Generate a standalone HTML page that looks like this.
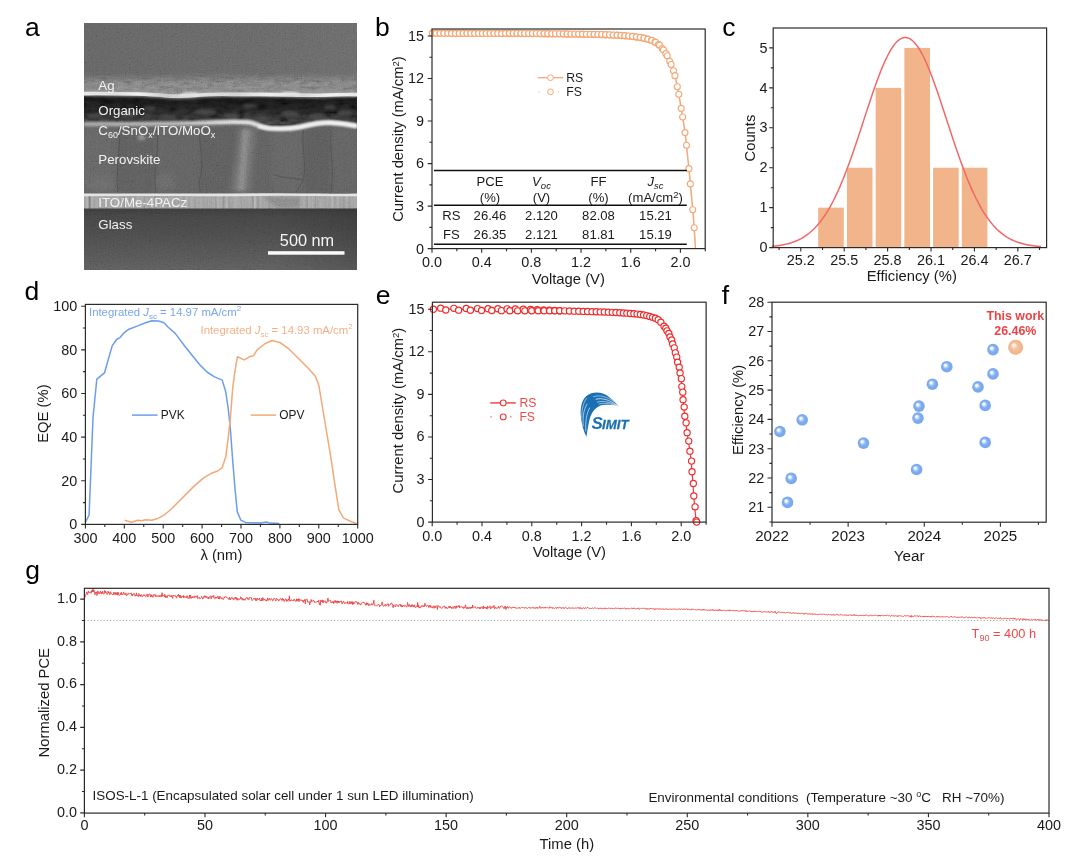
<!DOCTYPE html>
<html><head><meta charset="utf-8"><title>Figure</title>
<style>html,body{margin:0;padding:0;background:#fff;} svg{display:block;will-change:transform;} text{font-family:"Liberation Sans",sans-serif;}</style>
</head><body>
<svg width="1080" height="857" viewBox="0 0 1080 857" font-family="Liberation Sans, sans-serif">
<rect width="1080" height="857" fill="#fff"/>
<defs>
<filter id="grain" x="0" y="0" width="100%" height="100%">
  <feTurbulence type="fractalNoise" baseFrequency="0.75" numOctaves="2" seed="3"/>
  <feColorMatrix type="matrix" values="0.33 0.33 0.33 0 0  0.33 0.33 0.33 0 0  0.33 0.33 0.33 0 0  0 0 0 0 1"/>
  <feGaussianBlur stdDeviation="0.7"/>
  <feComponentTransfer><feFuncR type="linear" slope="2.2" intercept="-0.6"/><feFuncG type="linear" slope="2.2" intercept="-0.6"/><feFuncB type="linear" slope="2.2" intercept="-0.6"/></feComponentTransfer>
</filter>
<filter id="mottle" x="0" y="0" width="100%" height="100%">
  <feTurbulence type="fractalNoise" baseFrequency="0.12 0.3" numOctaves="3" seed="11"/>
  <feColorMatrix type="matrix" values="0.33 0.33 0.33 0 0  0.33 0.33 0.33 0 0  0.33 0.33 0.33 0 0  0 0 0 0 1"/>
  <feComponentTransfer><feFuncR type="linear" slope="2.0" intercept="-0.45"/><feFuncG type="linear" slope="2.0" intercept="-0.45"/><feFuncB type="linear" slope="2.0" intercept="-0.45"/></feComponentTransfer>
</filter>
<filter id="mottle2" x="0" y="0" width="100%" height="100%">
  <feTurbulence type="fractalNoise" baseFrequency="0.09 0.2" numOctaves="3" seed="5"/>
  <feColorMatrix type="matrix" values="0.33 0.33 0.33 0 0  0.33 0.33 0.33 0 0  0.33 0.33 0.33 0 0  0 0 0 0 1"/>
  <feComponentTransfer><feFuncR type="linear" slope="2.4" intercept="-0.65"/><feFuncG type="linear" slope="2.4" intercept="-0.65"/><feFuncB type="linear" slope="2.4" intercept="-0.65"/></feComponentTransfer>
</filter>
<filter id="vstreak" x="0" y="0" width="100%" height="100%">
  <feTurbulence type="fractalNoise" baseFrequency="0.35 0.01" numOctaves="2" seed="8"/>
  <feColorMatrix type="matrix" values="0.33 0.33 0.33 0 0  0.33 0.33 0.33 0 0  0.33 0.33 0.33 0 0  0 0 0 0 1"/>
  <feComponentTransfer><feFuncR type="linear" slope="2.2" intercept="-0.6"/><feFuncG type="linear" slope="2.2" intercept="-0.6"/><feFuncB type="linear" slope="2.2" intercept="-0.6"/></feComponentTransfer>
</filter>
<filter id="blur05" filterUnits="userSpaceOnUse" x="80" y="20" width="280" height="255"><feGaussianBlur stdDeviation="0.45"/></filter>
<filter id="blur1" filterUnits="userSpaceOnUse" x="80" y="20" width="280" height="255"><feGaussianBlur stdDeviation="0.8"/></filter>
<filter id="blur2" filterUnits="userSpaceOnUse" x="80" y="20" width="280" height="255"><feGaussianBlur stdDeviation="1.6"/></filter>
<filter id="blur4" filterUnits="userSpaceOnUse" x="80" y="20" width="280" height="255"><feGaussianBlur stdDeviation="3"/></filter>
<radialGradient id="sph" cx="0.5" cy="0.5" r="0.5" fx="0.35" fy="0.35">
  <stop offset="0" stop-color="#ffffff"/>
  <stop offset="0.2" stop-color="#eef4fd"/>
  <stop offset="0.42" stop-color="#9fc1f4"/>
  <stop offset="0.6" stop-color="#7eacf0"/>
  <stop offset="1" stop-color="#77a7ee"/>
</radialGradient>
<radialGradient id="sph2" cx="0.5" cy="0.5" r="0.5" fx="0.35" fy="0.33">
  <stop offset="0" stop-color="#ffffff"/>
  <stop offset="0.18" stop-color="#fcebdd"/>
  <stop offset="0.45" stop-color="#f4c29f"/>
  <stop offset="1" stop-color="#efb183"/>
</radialGradient>
<linearGradient id="glass" x1="0" y1="0" x2="0" y2="1">
  <stop offset="0" stop-color="#3a3a3a"/>
  <stop offset="0.12" stop-color="#434343"/>
  <stop offset="0.5" stop-color="#4c4c4c"/>
  <stop offset="1" stop-color="#5c5c5c"/>
</linearGradient>
<linearGradient id="glassh" x1="0" y1="0" x2="1" y2="0">
  <stop offset="0" stop-color="#000" stop-opacity="0"/>
  <stop offset="0.7" stop-color="#000" stop-opacity="0"/>
  <stop offset="1" stop-color="#000" stop-opacity="0.12"/>
</linearGradient>
<linearGradient id="aggh" x1="0" y1="0" x2="1" y2="0">
  <stop offset="0" stop-color="#626262"/>
  <stop offset="1" stop-color="#686868"/>
</linearGradient>
<linearGradient id="agfade" x1="0" y1="0" x2="0" y2="1"><stop offset="0" stop-color="#000"/><stop offset="0.45" stop-color="#fff"/><stop offset="1" stop-color="#fff"/></linearGradient>
<mask id="agmask" maskUnits="userSpaceOnUse" x="84" y="72" width="273" height="23"><rect x="84" y="72" width="273" height="23" fill="url(#agfade)"/></mask>
<linearGradient id="ifgrad" gradientUnits="userSpaceOnUse" x1="84" y1="0" x2="357" y2="0"><stop offset="0" stop-color="#a0a0a0"/><stop offset="0.35" stop-color="#b0b0b0"/><stop offset="0.55" stop-color="#dcdcdc"/><stop offset="1" stop-color="#e6e6e6"/></linearGradient>
<linearGradient id="orgg" x1="0" y1="0" x2="0" y2="1"><stop offset="0" stop-color="#0c0c0c"/><stop offset="0.45" stop-color="#181818"/><stop offset="1" stop-color="#303030"/></linearGradient>
<linearGradient id="aglg" gradientUnits="userSpaceOnUse" x1="84" y1="0" x2="357" y2="0"><stop offset="0" stop-color="#e8e8e8"/><stop offset="0.12" stop-color="#dcdcdc"/><stop offset="0.2" stop-color="#f0f0f0"/><stop offset="0.3" stop-color="#c8c8c8"/><stop offset="0.42" stop-color="#e0e0e0"/><stop offset="0.55" stop-color="#d0d0d0"/><stop offset="0.68" stop-color="#ececec"/><stop offset="0.8" stop-color="#d4d4d4"/><stop offset="0.9" stop-color="#f0f0f0"/><stop offset="1" stop-color="#e4e4e4"/></linearGradient>
<clipPath id="semclip"><rect x="84" y="23" width="273" height="247"/></clipPath>
</defs>
<text x="25" y="35.8" font-size="26.5" text-anchor="start" fill="#000" >a</text>
<text x="374.9" y="35.6" font-size="26.5" text-anchor="start" fill="#000" >b</text>
<text x="722.3" y="35.9" font-size="26.5" text-anchor="start" fill="#000" >c</text>
<text x="24.6" y="299.8" font-size="26.5" text-anchor="start" fill="#000" >d</text>
<text x="375.8" y="303.9" font-size="26.5" text-anchor="start" fill="#000" >e</text>
<text x="721.8" y="303.7" font-size="26.5" text-anchor="start" fill="#000" >f</text>
<text x="25.2" y="579.3" font-size="26.5" text-anchor="start" fill="#000" >g</text>
<g clip-path="url(#semclip)">
<rect x="84" y="23" width="273" height="247" fill="#656565"/>
<rect x="84" y="23" width="273" height="60" fill="url(#aggh)"/>
<path d="M84 80 C 150 82, 250 78, 357 81 L 357 95 L 84 95 Z" fill="#717171" filter="url(#blur4)"/>
<rect x="84" y="72" width="273" height="23" filter="url(#mottle)" style="mix-blend-mode:overlay" opacity="0.3" mask="url(#agmask)"/>
<rect x="84" y="118" width="273" height="77" fill="#5e5e5e"/>
<rect x="84" y="128" width="34" height="64" fill="#636363" filter="url(#blur4)"/>
<rect x="118" y="128" width="38" height="64" fill="#5c5c5c" filter="url(#blur4)"/>
<rect x="156" y="128" width="44" height="64" fill="#616161" filter="url(#blur4)"/>
<rect x="200" y="128" width="40" height="64" fill="#5b5b5b" filter="url(#blur4)"/>
<rect x="272" y="128" width="32" height="64" fill="#626262" filter="url(#blur4)"/>
<rect x="304" y="128" width="28" height="64" fill="#5a5a5a" filter="url(#blur4)"/>
<rect x="332" y="128" width="25" height="64" fill="#616161" filter="url(#blur4)"/>
<path d="M240 128 C 238 150, 235 170, 232 192 L 249 192 C 250 170, 253 150, 255 128 Z" fill="#747474" filter="url(#blur4)"/>
<path d="M243 130 C 242 150, 240 170, 238 190 L 244 190 C 245 170, 247 150, 249 130 Z" fill="#858585" filter="url(#blur2)"/>
<ellipse cx="141.5" cy="137.5" rx="4" ry="2.5" fill="#909090" filter="url(#blur2)"/>
<ellipse cx="100" cy="184" rx="14" ry="7" fill="#696969" filter="url(#blur4)"/>
<ellipse cx="165" cy="182" rx="10" ry="8" fill="#676767" filter="url(#blur4)"/>
<path d="M119 128 C 121 150, 115 172, 118 192" stroke="#4a4a4a" stroke-width="1" fill="none" opacity="0.7" filter="url(#blur05)"/>
<path d="M157 130 C 160 150, 152 172, 156 192" stroke="#4a4a4a" stroke-width="1" fill="none" opacity="0.7" filter="url(#blur05)"/>
<path d="M200 128 C 198 145, 205 160, 200 178 C 198 185, 201 190, 200 192" stroke="#4a4a4a" stroke-width="1" fill="none" opacity="0.7" filter="url(#blur05)"/>
<path d="M304 128 C 300 145, 308 165, 303 180 C 300 186, 298 190, 296 192" stroke="#4a4a4a" stroke-width="1" fill="none" opacity="0.7" filter="url(#blur05)"/>
<path d="M331 130 C 329 150, 335 170, 331 192" stroke="#4a4a4a" stroke-width="1" fill="none" opacity="0.7" filter="url(#blur05)"/>
<path d="M274 175 C 284 178, 294 178, 303 180" stroke="#4a4a4a" stroke-width="1" fill="none" opacity="0.7" filter="url(#blur05)"/>
<path d="M84 95 L 357 95 L 357 126 C 345 123.5, 335 121.5, 325 122.5 C 312 124, 305 127, 300 127 C 290 129, 275 129, 265 127.5 C 255 125, 248 121.5, 240 121.5 C 220 122, 200 123, 84 124 Z" fill="url(#orgg)"/>
<rect x="84" y="96" width="273" height="28" filter="url(#mottle2)" style="mix-blend-mode:overlay" opacity="0.9"/>
<ellipse cx="95" cy="116" rx="8" ry="3" fill="#4a4a4a" opacity="0.8" filter="url(#blur2)"/>
<ellipse cx="130" cy="114" rx="10" ry="3" fill="#4a4a4a" opacity="0.8" filter="url(#blur2)"/>
<ellipse cx="168" cy="117" rx="9" ry="2.5" fill="#4a4a4a" opacity="0.8" filter="url(#blur2)"/>
<ellipse cx="205" cy="112" rx="12" ry="3" fill="#4a4a4a" opacity="0.8" filter="url(#blur2)"/>
<ellipse cx="232" cy="116" rx="8" ry="3" fill="#4a4a4a" opacity="0.8" filter="url(#blur2)"/>
<ellipse cx="262" cy="118" rx="10" ry="2.5" fill="#4a4a4a" opacity="0.8" filter="url(#blur2)"/>
<ellipse cx="290" cy="114" rx="9" ry="3" fill="#4a4a4a" opacity="0.8" filter="url(#blur2)"/>
<ellipse cx="318" cy="117" rx="10" ry="3" fill="#4a4a4a" opacity="0.8" filter="url(#blur2)"/>
<ellipse cx="345" cy="113" rx="8" ry="3" fill="#4a4a4a" opacity="0.8" filter="url(#blur2)"/>
<ellipse cx="150" cy="108" rx="6" ry="2" fill="#4a4a4a" opacity="0.8" filter="url(#blur2)"/>
<ellipse cx="250" cy="106" rx="7" ry="2" fill="#4a4a4a" opacity="0.8" filter="url(#blur2)"/>
<ellipse cx="330" cy="107" rx="6" ry="2" fill="#4a4a4a" opacity="0.8" filter="url(#blur2)"/>
<path d="M84 93.6 C 120 93.4, 150 94.2, 165 95.6 C 175 96.6, 185 96.4, 200 95 C 215 93.6, 230 94.6, 250 94.4 C 280 94, 300 95.6, 320 95.2 C 335 94.6, 345 94.2, 357 94.6" stroke="#999" stroke-width="5" fill="none" filter="url(#blur2)"/>
<path d="M84 93.6 C 120 93.4, 150 94.2, 165 95.6 C 175 96.6, 185 96.4, 200 95 C 215 93.6, 230 94.6, 250 94.4 C 280 94, 300 95.6, 320 95.2 C 335 94.6, 345 94.2, 357 94.6" stroke="url(#aglg)" stroke-width="3.6" fill="none" filter="url(#blur05)"/>
<path d="M180 95.5 C 186 93, 192 92.5, 198 94.5 M282 94 C 288 92.2, 294 92.4, 300 94.6" stroke="#e8e8e8" stroke-width="2" fill="none" filter="url(#blur1)"/>
<path d="M84 124 C 140 124, 190 123.5, 210 122.5 C 225 121.8, 240 121.2, 250 122.5 C 257 124, 262 127.5, 270 128.4 C 282 129.3, 293 128.5, 302 126.5 C 312 124, 320 122.2, 330 122.5 C 342 123, 350 124.5, 357 126" stroke="url(#ifgrad)" stroke-width="4.4" fill="none" filter="url(#blur1)"/>
<path d="M258 126.5 C 266 128.5, 285 129.5, 300 127 C 310 125, 318 122.5, 330 122.5 C 342 123, 350 124.5, 357 126" stroke="#f0f0f0" stroke-width="3.2" fill="none" filter="url(#blur1)"/>
<rect x="84" y="194" width="273" height="15" fill="#929292"/>
<rect x="84" y="195" width="273" height="13.5" filter="url(#vstreak)" style="mix-blend-mode:overlay" opacity="0.3"/>
<path d="M261 197 C 268 200, 272 204, 276 208 L 300 208 L 300 197 Z" fill="#888" filter="url(#blur2)"/>
<path d="M84 194.9 C 150 194.4, 200 195.3, 260 194.6 C 300 194.2, 330 195.2, 357 194.9" stroke="#e2e2e2" stroke-width="2.6" fill="none" filter="url(#blur05)"/>
<rect x="84" y="208.5" width="273" height="62" fill="url(#glass)"/>
<rect x="84" y="208.5" width="273" height="62" fill="url(#glassh)"/>
<rect x="84" y="23" width="273" height="247" filter="url(#grain)" style="mix-blend-mode:overlay" opacity="0.16"/>
</g>
<text x="98.3" y="89.7" font-size="13.3" text-anchor="start" fill="#f2f2f2" >Ag</text>
<text x="98.3" y="114.8" font-size="13.3" text-anchor="start" fill="#f2f2f2" >Organic</text>
<text x="98.3" y="134.5" font-size="13.3" fill="#f2f2f2">C<tspan font-size="9" dy="3">60</tspan><tspan dy="-3">/SnO</tspan><tspan font-size="9" dy="3">x</tspan><tspan dy="-3">/ITO/MoO</tspan><tspan font-size="9" dy="3">x</tspan></text>
<text x="98.3" y="164.4" font-size="13.3" text-anchor="start" fill="#f2f2f2" >Perovskite</text>
<text x="98.3" y="207.2" font-size="13.3" text-anchor="start" fill="#f2f2f2" >ITO/Me-4PACz</text>
<text x="98.3" y="228.6" font-size="13.3" text-anchor="start" fill="#f2f2f2" >Glass</text>
<text x="307" y="245.5" font-size="16.3" text-anchor="middle" fill="#f4f4f4" >500 nm</text>
<rect x="268" y="251.2" width="76.5" height="3.5" fill="#fafafa"/>
<path d="M432 33.07 L432.66 33.07 L433.32 33.07 L433.98 33.07 L434.64 33.07 L435.3 33.07 L435.96 33.08 L436.62 33.08 L437.28 33.08 L437.94 33.08 L438.6 33.08 L439.26 33.08 L439.92 33.08 L440.58 33.08 L441.24 33.08 L441.9 33.08 L442.56 33.08 L443.22 33.08 L443.88 33.08 L444.54 33.08 L445.2 33.08 L445.86 33.09 L446.52 33.09 L447.19 33.09 L447.85 33.09 L448.51 33.09 L449.17 33.09 L449.83 33.09 L450.49 33.09 L451.15 33.1 L451.81 33.1 L452.47 33.1 L453.13 33.1 L453.79 33.1 L454.45 33.1 L455.11 33.1 L455.77 33.11 L456.43 33.11 L457.09 33.11 L457.75 33.11 L458.41 33.11 L459.07 33.12 L459.73 33.12 L460.39 33.12 L461.05 33.12 L461.71 33.12 L462.37 33.13 L463.03 33.13 L463.69 33.13 L464.35 33.13 L465.01 33.13 L465.67 33.14 L466.33 33.14 L466.99 33.14 L467.65 33.14 L468.31 33.15 L468.97 33.15 L469.63 33.15 L470.29 33.15 L470.95 33.16 L471.61 33.16 L472.27 33.16 L472.93 33.16 L473.59 33.17 L474.25 33.17 L474.91 33.17 L475.57 33.17 L476.23 33.18 L476.9 33.18 L477.56 33.18 L478.22 33.19 L478.88 33.19 L479.54 33.19 L480.2 33.2 L480.86 33.2 L481.52 33.2 L482.18 33.2 L482.84 33.21 L483.5 33.21 L484.16 33.21 L484.82 33.22 L485.48 33.22 L486.14 33.22 L486.8 33.23 L487.46 33.23 L488.12 33.23 L488.78 33.24 L489.44 33.24 L490.1 33.24 L490.76 33.25 L491.42 33.25 L492.08 33.26 L492.74 33.26 L493.4 33.26 L494.06 33.27 L494.72 33.27 L495.38 33.27 L496.04 33.28 L496.7 33.28 L497.36 33.28 L498.02 33.29 L498.68 33.29 L499.34 33.3 L500 33.3 L500.66 33.3 L501.32 33.31 L501.98 33.31 L502.64 33.31 L503.3 33.32 L503.96 33.32 L504.62 33.33 L505.28 33.33 L505.94 33.33 L506.6 33.34 L507.27 33.34 L507.93 33.35 L508.59 33.35 L509.25 33.35 L509.91 33.36 L510.57 33.36 L511.23 33.37 L511.89 33.37 L512.55 33.38 L513.21 33.38 L513.87 33.38 L514.53 33.39 L515.19 33.39 L515.85 33.4 L516.51 33.4 L517.17 33.41 L517.83 33.41 L518.49 33.41 L519.15 33.42 L519.81 33.42 L520.47 33.43 L521.13 33.43 L521.79 33.44 L522.45 33.44 L523.11 33.44 L523.77 33.45 L524.43 33.45 L525.09 33.46 L525.75 33.46 L526.41 33.47 L527.07 33.47 L527.73 33.47 L528.39 33.48 L529.05 33.48 L529.71 33.49 L530.37 33.49 L531.03 33.5 L531.69 33.5 L532.35 33.51 L533.01 33.51 L533.67 33.52 L534.33 33.52 L534.99 33.53 L535.65 33.53 L536.31 33.54 L536.98 33.54 L537.64 33.55 L538.3 33.55 L538.96 33.56 L539.62 33.56 L540.28 33.57 L540.94 33.57 L541.6 33.58 L542.26 33.59 L542.92 33.59 L543.58 33.6 L544.24 33.6 L544.9 33.61 L545.56 33.62 L546.22 33.62 L546.88 33.63 L547.54 33.64 L548.2 33.64 L548.86 33.65 L549.52 33.66 L550.18 33.67 L550.84 33.67 L551.5 33.68 L552.16 33.69 L552.82 33.7 L553.48 33.7 L554.14 33.71 L554.8 33.72 L555.46 33.73 L556.12 33.73 L556.78 33.74 L557.44 33.75 L558.1 33.76 L558.76 33.77 L559.42 33.78 L560.08 33.78 L560.74 33.79 L561.4 33.8 L562.06 33.81 L562.72 33.82 L563.38 33.83 L564.04 33.84 L564.7 33.85 L565.36 33.86 L566.02 33.87 L566.69 33.88 L567.35 33.89 L568.01 33.9 L568.67 33.91 L569.33 33.92 L569.99 33.93 L570.65 33.94 L571.31 33.95 L571.97 33.96 L572.63 33.97 L573.29 33.98 L573.95 33.99 L574.61 34 L575.27 34.01 L575.93 34.02 L576.59 34.03 L577.25 34.04 L577.91 34.05 L578.57 34.07 L579.23 34.08 L579.89 34.09 L580.55 34.1 L581.21 34.11 L581.87 34.12 L582.53 34.14 L583.19 34.15 L583.85 34.16 L584.51 34.17 L585.17 34.19 L585.83 34.2 L586.49 34.21 L587.15 34.22 L587.81 34.24 L588.47 34.25 L589.13 34.26 L589.79 34.27 L590.45 34.29 L591.11 34.3 L591.77 34.31 L592.43 34.33 L593.09 34.34 L593.75 34.36 L594.41 34.37 L595.07 34.38 L595.73 34.4 L596.4 34.41 L597.06 34.43 L597.72 34.45 L598.38 34.46 L599.04 34.48 L599.7 34.5 L600.36 34.51 L601.02 34.53 L601.68 34.55 L602.34 34.57 L603 34.59 L603.66 34.61 L604.32 34.63 L604.98 34.65 L605.64 34.67 L606.3 34.69 L606.96 34.72 L607.62 34.74 L608.28 34.76 L608.94 34.79 L609.6 34.81 L610.26 34.84 L610.92 34.86 L611.58 34.89 L612.24 34.92 L612.9 34.95 L613.56 34.98 L614.22 35 L614.88 35.03 L615.54 35.06 L616.2 35.1 L616.86 35.13 L617.52 35.16 L618.18 35.19 L618.84 35.23 L619.5 35.26 L620.16 35.3 L620.82 35.34 L621.48 35.39 L622.14 35.43 L622.8 35.48 L623.46 35.52 L624.12 35.57 L624.78 35.63 L625.44 35.68 L626.1 35.74 L626.77 35.79 L627.43 35.85 L628.09 35.91 L628.75 35.98 L629.41 36.04 L630.07 36.11 L630.73 36.18 L631.39 36.25 L632.05 36.32 L632.71 36.4 L633.37 36.48 L634.03 36.55 L634.69 36.64 L635.35 36.72 L636.01 36.8 L636.67 36.89 L637.33 36.98 L637.99 37.07 L638.65 37.16 L639.31 37.26 L639.97 37.37 L640.63 37.48 L641.29 37.6 L641.95 37.72 L642.61 37.85 L643.27 37.98 L643.93 38.12 L644.59 38.27 L645.25 38.42 L645.91 38.58 L646.57 38.75 L647.23 38.93 L647.89 39.11 L648.55 39.3 L649.21 39.5 L649.87 39.7 L650.53 39.92 L651.19 40.14 L651.85 40.39 L652.51 40.66 L653.17 40.95 L653.83 41.27 L654.49 41.61 L655.15 41.98 L655.81 42.38 L656.48 42.8 L657.14 43.24 L657.8 43.71 L658.46 44.2 L659.12 44.76 L659.78 45.43 L660.44 46.19 L661.1 47 L661.76 47.84 L662.42 48.68 L663.08 49.51 L663.74 50.35 L664.4 51.23 L665.06 52.15 L665.72 53.14 L666.38 54.21 L667.04 55.4 L667.7 56.72 L668.36 58.14 L669.02 59.62 L669.68 61.15 L670.34 62.7 L671 64.23 L671.66 65.78 L672.32 67.41 L672.98 69.16 L673.64 71.09 L674.3 73.26 L674.96 75.78 L675.62 78.57 L676.28 81.58 L676.94 84.74 L677.6 87.97 L678.26 91.39 L678.92 95.03 L679.58 98.82 L680.24 102.72 L680.9 106.69 L681.56 110.68 L682.22 114.61 L682.88 118.52 L683.54 122.53 L684.2 126.79 L684.86 131.43 L685.52 136.63 L686.19 142.46 L686.85 148.72 L687.51 155.22 L688.17 161.78 L688.83 168.32 L689.49 175.04 L690.15 181.91 L690.81 188.9 L691.47 195.96 L692.13 203.18 L692.79 210.69 L693.45 218.32 L694.11 226.63 L694.77 236.66 L695.43 248.6" stroke="#f3a878" stroke-width="1.5" fill="none"/>
<g fill="#fff" stroke="#f3a878" stroke-width="1.1"><circle cx="432.37" cy="33.07" r="3.0"/><circle cx="432.37" cy="33.36" r="3.0"/><circle cx="436.22" cy="33.08" r="3.0"/><circle cx="436.22" cy="33.36" r="3.0"/><circle cx="440.07" cy="33.08" r="3.0"/><circle cx="440.07" cy="33.36" r="3.0"/><circle cx="443.92" cy="33.08" r="3.0"/><circle cx="443.92" cy="33.37" r="3.0"/><circle cx="447.77" cy="33.09" r="3.0"/><circle cx="447.77" cy="33.37" r="3.0"/><circle cx="451.62" cy="33.1" r="3.0"/><circle cx="451.62" cy="33.38" r="3.0"/><circle cx="455.47" cy="33.11" r="3.0"/><circle cx="455.47" cy="33.39" r="3.0"/><circle cx="459.32" cy="33.12" r="3.0"/><circle cx="459.32" cy="33.4" r="3.0"/><circle cx="463.17" cy="33.13" r="3.0"/><circle cx="463.17" cy="33.41" r="3.0"/><circle cx="467.02" cy="33.14" r="3.0"/><circle cx="467.02" cy="33.42" r="3.0"/><circle cx="470.87" cy="33.16" r="3.0"/><circle cx="470.87" cy="33.44" r="3.0"/><circle cx="474.72" cy="33.17" r="3.0"/><circle cx="474.72" cy="33.45" r="3.0"/><circle cx="478.58" cy="33.19" r="3.0"/><circle cx="478.58" cy="33.47" r="3.0"/><circle cx="482.43" cy="33.21" r="3.0"/><circle cx="482.43" cy="33.49" r="3.0"/><circle cx="486.28" cy="33.22" r="3.0"/><circle cx="486.28" cy="33.51" r="3.0"/><circle cx="490.13" cy="33.24" r="3.0"/><circle cx="490.13" cy="33.53" r="3.0"/><circle cx="493.98" cy="33.27" r="3.0"/><circle cx="493.98" cy="33.55" r="3.0"/><circle cx="497.83" cy="33.29" r="3.0"/><circle cx="497.83" cy="33.57" r="3.0"/><circle cx="501.68" cy="33.31" r="3.0"/><circle cx="501.68" cy="33.59" r="3.0"/><circle cx="505.53" cy="33.62" r="3.0"/><circle cx="505.53" cy="33.33" r="3.0"/><circle cx="509.38" cy="33.64" r="3.0"/><circle cx="509.38" cy="33.36" r="3.0"/><circle cx="513.23" cy="33.66" r="3.0"/><circle cx="513.23" cy="33.38" r="3.0"/><circle cx="517.08" cy="33.69" r="3.0"/><circle cx="517.08" cy="33.4" r="3.0"/><circle cx="520.93" cy="33.71" r="3.0"/><circle cx="520.93" cy="33.43" r="3.0"/><circle cx="524.78" cy="33.74" r="3.0"/><circle cx="524.78" cy="33.46" r="3.0"/><circle cx="528.63" cy="33.76" r="3.0"/><circle cx="528.63" cy="33.48" r="3.0"/><circle cx="532.48" cy="33.79" r="3.0"/><circle cx="532.48" cy="33.51" r="3.0"/><circle cx="536.33" cy="33.82" r="3.0"/><circle cx="536.33" cy="33.54" r="3.0"/><circle cx="540.18" cy="33.85" r="3.0"/><circle cx="540.18" cy="33.57" r="3.0"/><circle cx="544.03" cy="33.89" r="3.0"/><circle cx="544.03" cy="33.6" r="3.0"/><circle cx="547.88" cy="33.92" r="3.0"/><circle cx="547.88" cy="33.64" r="3.0"/><circle cx="551.73" cy="33.97" r="3.0"/><circle cx="551.73" cy="33.68" r="3.0"/><circle cx="555.58" cy="34.01" r="3.0"/><circle cx="555.58" cy="33.73" r="3.0"/><circle cx="559.43" cy="34.06" r="3.0"/><circle cx="559.43" cy="33.78" r="3.0"/><circle cx="563.28" cy="34.11" r="3.0"/><circle cx="563.28" cy="33.83" r="3.0"/><circle cx="567.13" cy="34.16" r="3.0"/><circle cx="567.13" cy="33.88" r="3.0"/><circle cx="570.98" cy="34.22" r="3.0"/><circle cx="570.98" cy="33.94" r="3.0"/><circle cx="574.83" cy="34.28" r="3.0"/><circle cx="574.83" cy="34" r="3.0"/><circle cx="578.68" cy="34.35" r="3.0"/><circle cx="578.68" cy="34.07" r="3.0"/><circle cx="582.53" cy="34.42" r="3.0"/><circle cx="582.53" cy="34.14" r="3.0"/><circle cx="586.38" cy="34.49" r="3.0"/><circle cx="586.38" cy="34.21" r="3.0"/><circle cx="590.23" cy="34.57" r="3.0"/><circle cx="590.23" cy="34.28" r="3.0"/><circle cx="594.08" cy="34.64" r="3.0"/><circle cx="594.08" cy="34.36" r="3.0"/><circle cx="597.93" cy="34.73" r="3.0"/><circle cx="597.93" cy="34.45" r="3.0"/><circle cx="601.78" cy="34.84" r="3.0"/><circle cx="601.78" cy="34.55" r="3.0"/><circle cx="605.63" cy="34.95" r="3.0"/><circle cx="605.63" cy="34.67" r="3.0"/><circle cx="609.48" cy="35.09" r="3.0"/><circle cx="609.48" cy="34.81" r="3.0"/><circle cx="613.33" cy="35.25" r="3.0"/><circle cx="613.33" cy="34.97" r="3.0"/><circle cx="617.18" cy="35.42" r="3.0"/><circle cx="617.18" cy="35.14" r="3.0"/><circle cx="621.03" cy="35.64" r="3.0"/><circle cx="621.03" cy="35.36" r="3.0"/><circle cx="624.88" cy="35.91" r="3.0"/><circle cx="624.88" cy="35.63" r="3.0"/><circle cx="628.73" cy="36.26" r="3.0"/><circle cx="628.73" cy="35.98" r="3.0"/><circle cx="632.57" cy="36.66" r="3.0"/><circle cx="632.58" cy="36.38" r="3.0"/><circle cx="636.4" cy="37.13" r="3.0"/><circle cx="636.43" cy="36.86" r="3.0"/><circle cx="640.22" cy="37.69" r="3.0"/><circle cx="640.28" cy="37.42" r="3.0"/><circle cx="644" cy="38.41" r="3.0"/><circle cx="644.13" cy="38.17" r="3.0"/><circle cx="647.72" cy="39.34" r="3.0"/><circle cx="647.98" cy="39.14" r="3.0"/><circle cx="651.36" cy="40.47" r="3.0"/><circle cx="651.83" cy="40.38" r="3.0"/><circle cx="654.93" cy="42.13" r="3.0"/><circle cx="655.68" cy="42.3" r="3.0"/><circle cx="658.51" cy="44.51" r="3.0"/><circle cx="659.53" cy="45.17" r="3.0"/><circle cx="662.15" cy="48.6" r="3.0"/><circle cx="663.38" cy="49.9" r="3.0"/><circle cx="665.87" cy="53.64" r="3.0"/><circle cx="667.23" cy="55.78" r="3.0"/><circle cx="669.66" cy="61.35" r="3.0"/><circle cx="671.09" cy="64.43" r="3.0"/><circle cx="673.47" cy="70.82" r="3.0"/><circle cx="674.94" cy="75.67" r="3.0"/><circle cx="677.31" cy="86.73" r="3.0"/><circle cx="678.79" cy="94.26" r="3.0"/><circle cx="681.15" cy="108.38" r="3.0"/><circle cx="682.64" cy="117.04" r="3.0"/><circle cx="685" cy="132.58" r="3.0"/><circle cx="686.49" cy="145.27" r="3.0"/><circle cx="688.85" cy="168.63" r="3.0"/><circle cx="690.34" cy="183.91" r="3.0"/><circle cx="692.7" cy="209.69" r="3.0"/><circle cx="694.19" cy="227.71" r="3.0"/></g>
<path d="M537.8 77.7H563.3" stroke="#f3a878" stroke-width="1.3"/>
<circle cx="550.5" cy="77.7" r="2.9" fill="#fff" stroke="#f3a878" stroke-width="1"/>
<path d="M538.5 91.8h0.9M557.8 91.8h0.9" stroke="#f3a878" stroke-width="1.3"/>
<circle cx="550.5" cy="91.8" r="2.9" fill="#fff" stroke="#f3a878" stroke-width="1"/>
<text x="566.3" y="81.9" font-size="12.2" text-anchor="start" fill="#1a1a1a" >RS</text>
<text x="566.3" y="95.8" font-size="12.2" text-anchor="start" fill="#1a1a1a" >FS</text>
<path d="M434 170.5H686.8M434 205.2H686.8M434 244.3H686.8" stroke="#111" stroke-width="1.5"/>
<text x="490" y="186.2" font-size="13.1" text-anchor="middle" fill="#1a1a1a" >PCE</text>
<text x="490" y="201.6" font-size="13.1" text-anchor="middle" fill="#1a1a1a" >(%)</text>
<text x="541.5" y="186.2" font-size="13.1" text-anchor="middle" fill="#1a1a1a"><tspan font-style="italic">V</tspan><tspan font-size="9.5" dy="2.5" font-style="italic">oc</tspan></text>
<text x="541.5" y="201.6" font-size="13.1" text-anchor="middle" fill="#1a1a1a" >(V)</text>
<text x="598.5" y="186.2" font-size="13.1" text-anchor="middle" fill="#1a1a1a" >FF</text>
<text x="598.5" y="201.6" font-size="13.1" text-anchor="middle" fill="#1a1a1a" >(%)</text>
<text x="655.5" y="186.2" font-size="13.1" text-anchor="middle" fill="#1a1a1a"><tspan font-style="italic">J</tspan><tspan font-size="9.5" dy="2.5" font-style="italic">sc</tspan></text>
<text x="655.5" y="201.6" font-size="13.1" text-anchor="middle" fill="#1a1a1a">(mA/cm<tspan font-size="9.5" dy="-4">2</tspan><tspan dy="4">)</tspan></text>
<text x="451.3" y="220.1" font-size="13.1" text-anchor="middle" fill="#1a1a1a" >RS</text>
<text x="490" y="220.1" font-size="13.1" text-anchor="middle" fill="#1a1a1a" >26.46</text>
<text x="541.5" y="220.1" font-size="13.1" text-anchor="middle" fill="#1a1a1a" >2.120</text>
<text x="598.5" y="220.1" font-size="13.1" text-anchor="middle" fill="#1a1a1a" >82.08</text>
<text x="655.5" y="220.1" font-size="13.1" text-anchor="middle" fill="#1a1a1a" >15.21</text>
<text x="451.3" y="239.2" font-size="13.1" text-anchor="middle" fill="#1a1a1a" >FS</text>
<text x="490" y="239.2" font-size="13.1" text-anchor="middle" fill="#1a1a1a" >26.35</text>
<text x="541.5" y="239.2" font-size="13.1" text-anchor="middle" fill="#1a1a1a" >2.121</text>
<text x="598.5" y="239.2" font-size="13.1" text-anchor="middle" fill="#1a1a1a" >81.81</text>
<text x="655.5" y="239.2" font-size="13.1" text-anchor="middle" fill="#1a1a1a" >15.19</text>
<rect x="432" y="29" width="273.2" height="219.6" fill="none" stroke="#2b2b2b" stroke-width="1.2"/>
<path d="M432 248.6v4.2M481.68 248.6v4.2M531.36 248.6v4.2M581.04 248.6v4.2M630.72 248.6v4.2M680.4 248.6v4.2" stroke="#2b2b2b" stroke-width="1.1" fill="none"/>
<path d="M456.84 248.6v2.6M506.52 248.6v2.6M556.2 248.6v2.6M605.88 248.6v2.6M655.56 248.6v2.6M705.24 248.6v2.6" stroke="#2b2b2b" stroke-width="1.1" fill="none"/>
<path d="M432 248.6h-4.3M432 206.09h-4.3M432 163.58h-4.3M432 121.07h-4.3M432 78.56h-4.3M432 36.05h-4.3" stroke="#2b2b2b" stroke-width="1.1" fill="none"/>
<path d="M432 227.34h-2.6M432 184.83h-2.6M432 142.32h-2.6M432 99.81h-2.6M432 57.31h-2.6" stroke="#2b2b2b" stroke-width="1.1" fill="none"/>
<text x="432" y="267.4" font-size="14.4" text-anchor="middle" fill="#1a1a1a" >0.0</text>
<text x="481.68" y="267.4" font-size="14.4" text-anchor="middle" fill="#1a1a1a" >0.4</text>
<text x="531.36" y="267.4" font-size="14.4" text-anchor="middle" fill="#1a1a1a" >0.8</text>
<text x="581.04" y="267.4" font-size="14.4" text-anchor="middle" fill="#1a1a1a" >1.2</text>
<text x="630.72" y="267.4" font-size="14.4" text-anchor="middle" fill="#1a1a1a" >1.6</text>
<text x="680.4" y="267.4" font-size="14.4" text-anchor="middle" fill="#1a1a1a" >2.0</text>
<text x="424" y="253.5" font-size="14.4" text-anchor="end" fill="#1a1a1a" >0</text>
<text x="424" y="210.99" font-size="14.4" text-anchor="end" fill="#1a1a1a" >3</text>
<text x="424" y="168.48" font-size="14.4" text-anchor="end" fill="#1a1a1a" >6</text>
<text x="424" y="125.97" font-size="14.4" text-anchor="end" fill="#1a1a1a" >9</text>
<text x="424" y="83.46" font-size="14.4" text-anchor="end" fill="#1a1a1a" >12</text>
<text x="424" y="40.95" font-size="14.4" text-anchor="end" fill="#1a1a1a" >15</text>
<text x="568.3" y="283.8" font-size="14.8" text-anchor="middle" fill="#1a1a1a" >Voltage (V)</text>
<text x="0" y="0" font-size="14.8" text-anchor="middle" fill="#1a1a1a" transform="translate(403.2,139) rotate(-90)">Current density (mA/cm<tspan font-size="9.5" dy="-4.2">2</tspan><tspan dy="4.2">)</tspan></text>
<rect x="818.2" y="207.66" width="25.6" height="39.94" fill="#f2b48a"/>
<rect x="846.92" y="167.72" width="25.6" height="79.88" fill="#f2b48a"/>
<rect x="875.64" y="87.84" width="25.6" height="159.76" fill="#f2b48a"/>
<rect x="904.36" y="47.9" width="25.6" height="199.7" fill="#f2b48a"/>
<rect x="933.08" y="167.72" width="25.6" height="79.88" fill="#f2b48a"/>
<rect x="961.8" y="167.72" width="25.6" height="79.88" fill="#f2b48a"/>
<path d="M771.86 246.39 L772.76 246.31 L773.66 246.22 L774.56 246.12 L775.46 246.01 L776.36 245.9 L777.26 245.78 L778.16 245.66 L779.06 245.53 L779.96 245.39 L780.86 245.24 L781.76 245.08 L782.66 244.91 L783.56 244.73 L784.46 244.55 L785.36 244.35 L786.26 244.14 L787.16 243.92 L788.06 243.69 L788.96 243.44 L789.86 243.18 L790.76 242.91 L791.66 242.62 L792.56 242.32 L793.46 242 L794.36 241.66 L795.26 241.31 L796.16 240.94 L797.06 240.55 L797.96 240.14 L798.86 239.72 L799.76 239.27 L800.66 238.8 L801.56 238.31 L802.46 237.79 L803.36 237.25 L804.27 236.69 L805.17 236.1 L806.07 235.49 L806.97 234.85 L807.87 234.18 L808.77 233.48 L809.67 232.76 L810.57 232 L811.47 231.22 L812.37 230.4 L813.27 229.55 L814.17 228.66 L815.07 227.75 L815.97 226.79 L816.87 225.81 L817.77 224.78 L818.67 223.72 L819.57 222.62 L820.47 221.49 L821.37 220.31 L822.27 219.1 L823.17 217.84 L824.07 216.55 L824.97 215.21 L825.87 213.83 L826.77 212.41 L827.67 210.95 L828.57 209.44 L829.47 207.89 L830.37 206.3 L831.27 204.66 L832.17 202.98 L833.07 201.26 L833.97 199.49 L834.87 197.68 L835.77 195.82 L836.67 193.92 L837.57 191.98 L838.47 189.99 L839.37 187.96 L840.27 185.89 L841.17 183.77 L842.07 181.61 L842.97 179.42 L843.87 177.18 L844.77 174.9 L845.67 172.59 L846.57 170.24 L847.47 167.85 L848.37 165.43 L849.27 162.97 L850.17 160.48 L851.07 157.96 L851.97 155.41 L852.87 152.83 L853.77 150.23 L854.67 147.6 L855.57 144.94 L856.47 142.27 L857.37 139.58 L858.27 136.87 L859.17 134.15 L860.07 131.41 L860.97 128.67 L861.87 125.91 L862.77 123.15 L863.67 120.39 L864.57 117.63 L865.47 114.87 L866.37 112.12 L867.27 109.37 L868.18 106.64 L869.08 103.91 L869.98 101.21 L870.88 98.52 L871.78 95.86 L872.68 93.22 L873.58 90.6 L874.48 88.02 L875.38 85.47 L876.28 82.96 L877.18 80.49 L878.08 78.06 L878.98 75.68 L879.88 73.35 L880.78 71.06 L881.68 68.83 L882.58 66.66 L883.48 64.55 L884.38 62.5 L885.28 60.51 L886.18 58.59 L887.08 56.74 L887.98 54.97 L888.88 53.27 L889.78 51.64 L890.68 50.1 L891.58 48.63 L892.48 47.25 L893.38 45.96 L894.28 44.75 L895.18 43.63 L896.08 42.6 L896.98 41.66 L897.88 40.82 L898.78 40.07 L899.68 39.41 L900.58 38.85 L901.48 38.39 L902.38 38.02 L903.28 37.76 L904.18 37.59 L905.08 37.52 L905.98 37.55 L906.88 37.67 L907.78 37.9 L908.68 38.22 L909.58 38.64 L910.48 39.16 L911.38 39.78 L912.28 40.49 L913.18 41.29 L914.08 42.19 L914.98 43.18 L915.88 44.26 L916.78 45.43 L917.68 46.69 L918.58 48.03 L919.48 49.46 L920.38 50.97 L921.28 52.56 L922.18 54.23 L923.08 55.97 L923.98 57.79 L924.88 59.68 L925.78 61.64 L926.68 63.66 L927.58 65.75 L928.48 67.89 L929.38 70.1 L930.28 72.36 L931.18 74.67 L932.09 77.04 L932.99 79.45 L933.89 81.9 L934.79 84.4 L935.69 86.93 L936.59 89.49 L937.49 92.09 L938.39 94.72 L939.29 97.38 L940.19 100.06 L941.09 102.75 L941.99 105.47 L942.89 108.2 L943.79 110.94 L944.69 113.69 L945.59 116.45 L946.49 119.21 L947.39 121.97 L948.29 124.73 L949.19 127.49 L950.09 130.24 L950.99 132.98 L951.89 135.71 L952.79 138.42 L953.69 141.12 L954.59 143.8 L955.49 146.46 L956.39 149.1 L957.29 151.72 L958.19 154.31 L959.09 156.87 L959.99 159.4 L960.89 161.91 L961.79 164.38 L962.69 166.82 L963.59 169.22 L964.49 171.59 L965.39 173.92 L966.29 176.21 L967.19 178.47 L968.09 180.68 L968.99 182.85 L969.89 184.99 L970.79 187.08 L971.69 189.12 L972.59 191.13 L973.49 193.09 L974.39 195.01 L975.29 196.89 L976.19 198.72 L977.09 200.51 L977.99 202.25 L978.89 203.95 L979.79 205.6 L980.69 207.21 L981.59 208.78 L982.49 210.31 L983.39 211.79 L984.29 213.23 L985.19 214.62 L986.09 215.98 L986.99 217.29 L987.89 218.56 L988.79 219.8 L989.69 220.99 L990.59 222.14 L991.49 223.26 L992.39 224.33 L993.29 225.37 L994.19 226.38 L995.09 227.34 L995.99 228.27 L996.9 229.17 L997.8 230.04 L998.7 230.87 L999.6 231.67 L1000.5 232.44 L1001.4 233.18 L1002.3 233.89 L1003.2 234.57 L1004.1 235.22 L1005 235.84 L1005.9 236.44 L1006.8 237.02 L1007.7 237.56 L1008.6 238.09 L1009.5 238.59 L1010.4 239.07 L1011.3 239.53 L1012.2 239.96 L1013.1 240.38 L1014 240.78 L1014.9 241.15 L1015.8 241.51 L1016.7 241.86 L1017.6 242.18 L1018.5 242.49 L1019.4 242.79 L1020.3 243.07 L1021.2 243.33 L1022.1 243.58 L1023 243.82 L1023.9 244.05 L1024.8 244.26 L1025.7 244.46 L1026.6 244.66 L1027.5 244.84 L1028.4 245.01 L1029.3 245.17 L1030.2 245.32 L1031.1 245.47 L1032 245.6 L1032.9 245.73 L1033.8 245.85 L1034.7 245.97 L1035.6 246.07 L1036.5 246.17 L1037.4 246.27 L1038.3 246.36 L1039.2 246.44 L1040.1 246.52 L1041 246.59" stroke="#f06868" stroke-width="1.5" fill="none"/>
<rect x="773.2" y="28" width="273.4" height="219.6" fill="none" stroke="#2b2b2b" stroke-width="1.2"/>
<path d="M800.8 247.6v4M844.21 247.6v4M887.62 247.6v4M931.03 247.6v4M974.44 247.6v4M1017.85 247.6v4" stroke="#2b2b2b" stroke-width="1.1" fill="none"/>
<path d="M779.1 247.6v2.4M822.51 247.6v2.4M865.92 247.6v2.4M909.33 247.6v2.4M952.74 247.6v2.4M996.15 247.6v2.4M1039.56 247.6v2.4" stroke="#2b2b2b" stroke-width="1.1" fill="none"/>
<path d="M773.2 247.6h-4M773.2 207.66h-4M773.2 167.72h-4M773.2 127.78h-4M773.2 87.84h-4M773.2 47.9h-4" stroke="#2b2b2b" stroke-width="1.1" fill="none"/>
<path d="M773.2 227.63h-2.4M773.2 187.69h-2.4M773.2 147.75h-2.4M773.2 107.81h-2.4M773.2 67.87h-2.4" stroke="#2b2b2b" stroke-width="1.1" fill="none"/>
<text x="800.8" y="265.2" font-size="14.4" text-anchor="middle" fill="#1a1a1a" >25.2</text>
<text x="844.21" y="265.2" font-size="14.4" text-anchor="middle" fill="#1a1a1a" >25.5</text>
<text x="887.62" y="265.2" font-size="14.4" text-anchor="middle" fill="#1a1a1a" >25.8</text>
<text x="931.03" y="265.2" font-size="14.4" text-anchor="middle" fill="#1a1a1a" >26.1</text>
<text x="974.44" y="265.2" font-size="14.4" text-anchor="middle" fill="#1a1a1a" >26.4</text>
<text x="1017.85" y="265.2" font-size="14.4" text-anchor="middle" fill="#1a1a1a" >26.7</text>
<text x="767.5" y="252.3" font-size="14.4" text-anchor="end" fill="#1a1a1a" >0</text>
<text x="767.5" y="212.36" font-size="14.4" text-anchor="end" fill="#1a1a1a" >1</text>
<text x="767.5" y="172.42" font-size="14.4" text-anchor="end" fill="#1a1a1a" >2</text>
<text x="767.5" y="132.48" font-size="14.4" text-anchor="end" fill="#1a1a1a" >3</text>
<text x="767.5" y="92.54" font-size="14.4" text-anchor="end" fill="#1a1a1a" >4</text>
<text x="767.5" y="52.6" font-size="14.4" text-anchor="end" fill="#1a1a1a" >5</text>
<text x="911.8" y="281.3" font-size="14.8" text-anchor="middle" fill="#1a1a1a" >Efficiency (%)</text>
<text x="0" y="0" font-size="14.8" text-anchor="middle" fill="#1a1a1a" transform="translate(755.3,138.1) rotate(-90)">Counts</text>
<path d="M85.3 522.3 L89.1 515.1 L93 417.7 L96.8 379.2 L104.5 372.8 L112.2 345.9 L116.6 339.5 L119.9 337.7 L123.7 333.1 L128.9 329.2 L137.8 325.9 L145.5 322.8 L151.9 320.8 L158.4 321 L164 322.8 L167.7 326.7 L175.4 333.6 L185.6 347.2 L195.9 360 L200 365 L207 372 L214 376.6 L222.2 380.1 L225.7 391.8 L228 407 L230.3 428 L232.7 460.6 L235 488.6 L237.3 511.9 L240.8 520.1 L245.5 522.4 L260.6 523.1 L266.5 522 L270 523.1 L279.3 523.6" stroke="#6b9eea" stroke-width="1.5" fill="none" stroke-linejoin="round"/>
<path d="M124.5 520.3 L131.4 522.3 L137.8 520.3 L141.7 520.8 L145.5 519.7 L151.9 520.3 L158.4 518.2 L164 515.1 L170.3 510 L178 502.3 L185.6 494.6 L193.3 486.9 L203.6 477.9 L211.3 473.3 L217.7 471 L222.2 467.6 L225.7 457.1 L228 439.6 L230.3 418.6 L232.7 388.3 L234.5 374.3 L237.3 356.8 L244.3 359.9 L250.1 356.4 L253.6 355.7 L257.1 349.8 L265.3 343.5 L272.3 340.5 L280.5 342.8 L288.6 348.7 L298 358 L305 365 L308.5 368.5 L315.5 376.6 L319 386 L322.4 407 L327.1 435 L330.6 456 L334.1 479.3 L338.8 509.6 L343.4 517.8 L350.4 521.3 L356.7 523.6" stroke="#f3a878" stroke-width="1.5" fill="none" stroke-linejoin="round"/>
<rect x="85.4" y="304.4" width="272.3" height="220" fill="none" stroke="#2b2b2b" stroke-width="1.2"/>
<path d="M85.4 524.4v4.2M124.3 524.4v4.2M163.2 524.4v4.2M202.1 524.4v4.2M241 524.4v4.2M279.9 524.4v4.2M318.8 524.4v4.2M357.7 524.4v4.2" stroke="#2b2b2b" stroke-width="1.1" fill="none"/>
<path d="M104.85 524.4v2.5M143.75 524.4v2.5M182.65 524.4v2.5M221.55 524.4v2.5M260.45 524.4v2.5M299.35 524.4v2.5M338.25 524.4v2.5" stroke="#2b2b2b" stroke-width="1.1" fill="none"/>
<path d="M85.4 524.4h-4.2M85.4 480.76h-4.2M85.4 437.12h-4.2M85.4 393.48h-4.2M85.4 349.84h-4.2M85.4 306.2h-4.2" stroke="#2b2b2b" stroke-width="1.1" fill="none"/>
<path d="M85.4 502.58h-2.5M85.4 458.94h-2.5M85.4 415.3h-2.5M85.4 371.66h-2.5M85.4 328.02h-2.5" stroke="#2b2b2b" stroke-width="1.1" fill="none"/>
<text x="85.4" y="543" font-size="14.4" text-anchor="middle" fill="#1a1a1a" >300</text>
<text x="124.3" y="543" font-size="14.4" text-anchor="middle" fill="#1a1a1a" >400</text>
<text x="163.2" y="543" font-size="14.4" text-anchor="middle" fill="#1a1a1a" >500</text>
<text x="202.1" y="543" font-size="14.4" text-anchor="middle" fill="#1a1a1a" >600</text>
<text x="241" y="543" font-size="14.4" text-anchor="middle" fill="#1a1a1a" >700</text>
<text x="279.9" y="543" font-size="14.4" text-anchor="middle" fill="#1a1a1a" >800</text>
<text x="318.8" y="543" font-size="14.4" text-anchor="middle" fill="#1a1a1a" >900</text>
<text x="357.7" y="543" font-size="14.4" text-anchor="middle" fill="#1a1a1a" >1000</text>
<text x="77.2" y="529.3" font-size="14.4" text-anchor="end" fill="#1a1a1a" >0</text>
<text x="77.2" y="485.66" font-size="14.4" text-anchor="end" fill="#1a1a1a" >20</text>
<text x="77.2" y="442.02" font-size="14.4" text-anchor="end" fill="#1a1a1a" >40</text>
<text x="77.2" y="398.38" font-size="14.4" text-anchor="end" fill="#1a1a1a" >60</text>
<text x="77.2" y="354.74" font-size="14.4" text-anchor="end" fill="#1a1a1a" >80</text>
<text x="77.2" y="311.1" font-size="14.4" text-anchor="end" fill="#1a1a1a" >100</text>
<text x="221.4" y="559.8" font-size="14.8" text-anchor="middle" fill="#1a1a1a" >&#955; (nm)</text>
<text x="0" y="0" font-size="14.8" text-anchor="middle" fill="#1a1a1a" transform="translate(48.3,413.6) rotate(-90)">EQE (%)</text>
<path d="M132 415.1H157.5" stroke="#6b9eea" stroke-width="1.5"/>
<text x="160.8" y="418.6" font-size="11.9" text-anchor="start" fill="#1a1a1a" >PVK</text>
<path d="M250.8 415.1H276" stroke="#f3a878" stroke-width="1.5"/>
<text x="279.3" y="418.6" font-size="11.9" text-anchor="start" fill="#1a1a1a" >OPV</text>
<text x="89" y="315.6" font-size="11.35" fill="#79a6ec">Integrated <tspan font-style="italic">J</tspan><tspan font-size="8" dy="3">sc</tspan><tspan dy="-3"> = 14.97 mA/cm</tspan><tspan font-size="8" dy="-4.5">2</tspan></text>
<text x="200.5" y="333.5" font-size="11.35" fill="#f5b088">Integrated <tspan font-style="italic">J</tspan><tspan font-size="8" dy="3">sc</tspan><tspan dy="-3"> = 14.93 mA/cm</tspan><tspan font-size="8" dy="-4.5">2</tspan></text>
<path d="M432.2 308.97 L432.9 308.97 L433.61 308.98 L434.31 308.99 L435.02 309 L435.72 309.01 L436.43 309.01 L437.13 309.02 L437.84 309.03 L438.54 309.04 L439.25 309.05 L439.95 309.05 L440.66 309.06 L441.36 309.07 L442.06 309.08 L442.77 309.09 L443.47 309.09 L444.18 309.1 L444.88 309.11 L445.59 309.12 L446.29 309.13 L447 309.13 L447.7 309.14 L448.41 309.15 L449.11 309.16 L449.82 309.17 L450.52 309.18 L451.23 309.18 L451.93 309.19 L452.63 309.2 L453.34 309.21 L454.04 309.22 L454.75 309.22 L455.45 309.23 L456.16 309.24 L456.86 309.25 L457.57 309.26 L458.27 309.26 L458.98 309.27 L459.68 309.28 L460.39 309.29 L461.09 309.3 L461.79 309.3 L462.5 309.31 L463.2 309.32 L463.91 309.33 L464.61 309.34 L465.32 309.34 L466.02 309.35 L466.73 309.36 L467.43 309.37 L468.14 309.38 L468.84 309.38 L469.55 309.39 L470.25 309.4 L470.96 309.41 L471.66 309.42 L472.36 309.42 L473.07 309.43 L473.77 309.44 L474.48 309.45 L475.18 309.46 L475.89 309.46 L476.59 309.47 L477.3 309.48 L478 309.49 L478.71 309.5 L479.41 309.5 L480.12 309.51 L480.82 309.52 L481.52 309.53 L482.23 309.54 L482.93 309.54 L483.64 309.55 L484.34 309.56 L485.05 309.57 L485.75 309.58 L486.46 309.58 L487.16 309.59 L487.87 309.6 L488.57 309.61 L489.28 309.61 L489.98 309.62 L490.69 309.63 L491.39 309.63 L492.09 309.64 L492.8 309.65 L493.5 309.66 L494.21 309.66 L494.91 309.67 L495.62 309.68 L496.32 309.68 L497.03 309.69 L497.73 309.7 L498.44 309.71 L499.14 309.71 L499.85 309.72 L500.55 309.73 L501.25 309.73 L501.96 309.74 L502.66 309.75 L503.37 309.75 L504.07 309.76 L504.78 309.77 L505.48 309.78 L506.19 309.78 L506.89 309.79 L507.6 309.8 L508.3 309.8 L509.01 309.81 L509.71 309.82 L510.42 309.83 L511.12 309.83 L511.82 309.84 L512.53 309.85 L513.23 309.86 L513.94 309.87 L514.64 309.87 L515.35 309.88 L516.05 309.89 L516.76 309.9 L517.46 309.91 L518.17 309.91 L518.87 309.92 L519.58 309.93 L520.28 309.94 L520.98 309.95 L521.69 309.96 L522.39 309.97 L523.1 309.98 L523.8 309.99 L524.51 309.99 L525.21 310 L525.92 310.01 L526.62 310.02 L527.33 310.03 L528.03 310.04 L528.74 310.05 L529.44 310.07 L530.15 310.08 L530.85 310.09 L531.55 310.1 L532.26 310.11 L532.96 310.12 L533.67 310.13 L534.37 310.14 L535.08 310.16 L535.78 310.17 L536.49 310.18 L537.19 310.2 L537.9 310.21 L538.6 310.22 L539.31 310.24 L540.01 310.25 L540.71 310.27 L541.42 310.28 L542.12 310.3 L542.83 310.31 L543.53 310.33 L544.24 310.34 L544.94 310.36 L545.65 310.38 L546.35 310.39 L547.06 310.41 L547.76 310.43 L548.47 310.44 L549.17 310.46 L549.88 310.48 L550.58 310.5 L551.28 310.52 L551.99 310.53 L552.69 310.55 L553.4 310.57 L554.1 310.59 L554.81 310.61 L555.51 310.63 L556.22 310.65 L556.92 310.67 L557.63 310.69 L558.33 310.7 L559.04 310.72 L559.74 310.74 L560.44 310.76 L561.15 310.78 L561.85 310.8 L562.56 310.82 L563.26 310.84 L563.97 310.86 L564.67 310.88 L565.38 310.9 L566.08 310.93 L566.79 310.95 L567.49 310.97 L568.2 310.99 L568.9 311.01 L569.61 311.03 L570.31 311.05 L571.01 311.07 L571.72 311.09 L572.42 311.11 L573.13 311.13 L573.83 311.15 L574.54 311.17 L575.24 311.19 L575.95 311.21 L576.65 311.24 L577.36 311.26 L578.06 311.28 L578.77 311.3 L579.47 311.32 L580.17 311.34 L580.88 311.36 L581.58 311.38 L582.29 311.4 L582.99 311.42 L583.7 311.44 L584.4 311.46 L585.11 311.48 L585.81 311.5 L586.52 311.52 L587.22 311.54 L587.93 311.55 L588.63 311.57 L589.34 311.59 L590.04 311.61 L590.74 311.63 L591.45 311.65 L592.15 311.67 L592.86 311.69 L593.56 311.71 L594.27 311.73 L594.97 311.75 L595.68 311.77 L596.38 311.79 L597.09 311.81 L597.79 311.83 L598.5 311.85 L599.2 311.88 L599.9 311.9 L600.61 311.92 L601.31 311.94 L602.02 311.97 L602.72 311.99 L603.43 312.01 L604.13 312.04 L604.84 312.06 L605.54 312.09 L606.25 312.11 L606.95 312.14 L607.66 312.16 L608.36 312.19 L609.07 312.22 L609.77 312.25 L610.47 312.28 L611.18 312.3 L611.88 312.34 L612.59 312.37 L613.29 312.4 L614 312.43 L614.7 312.46 L615.41 312.5 L616.11 312.53 L616.82 312.57 L617.52 312.6 L618.23 312.64 L618.93 312.68 L619.63 312.72 L620.34 312.76 L621.04 312.8 L621.75 312.85 L622.45 312.89 L623.16 312.93 L623.86 312.98 L624.57 313.03 L625.27 313.08 L625.98 313.12 L626.68 313.18 L627.39 313.23 L628.09 313.28 L628.8 313.34 L629.5 313.39 L630.2 313.45 L630.91 313.51 L631.61 313.57 L632.32 313.63 L633.02 313.69 L633.73 313.75 L634.43 313.82 L635.14 313.88 L635.84 313.95 L636.55 314.02 L637.25 314.1 L637.96 314.18 L638.66 314.26 L639.36 314.35 L640.07 314.45 L640.77 314.54 L641.48 314.65 L642.18 314.75 L642.89 314.87 L643.59 314.98 L644.3 315.11 L645 315.24 L645.71 315.37 L646.41 315.51 L647.12 315.66 L647.82 315.84 L648.53 316.03 L649.23 316.24 L649.93 316.45 L650.64 316.68 L651.34 316.91 L652.05 317.15 L652.75 317.38 L653.46 317.61 L654.16 317.85 L654.87 318.09 L655.57 318.37 L656.28 318.67 L656.98 319.01 L657.69 319.41 L658.39 319.91 L659.09 320.49 L659.8 321.15 L660.5 321.87 L661.21 322.65 L661.91 323.49 L662.62 324.35 L663.32 325.25 L664.03 326.17 L664.73 327.15 L665.44 328.2 L666.14 329.34 L666.85 330.55 L667.55 331.84 L668.25 333.2 L668.96 334.63 L669.66 336.14 L670.37 337.78 L671.07 339.55 L671.78 341.45 L672.48 343.47 L673.19 345.6 L673.89 347.83 L674.6 350.23 L675.3 352.85 L676.01 355.63 L676.71 358.53 L677.42 361.49 L678.12 364.42 L678.82 367.28 L679.53 370.35 L680.23 373.95 L680.94 378.63 L681.64 384.88 L682.35 392.13 L683.05 399.74 L683.76 407.07 L684.46 413.47 L685.17 418.98 L685.87 424.12 L686.58 429.04 L687.28 433.92 L687.98 438.81 L688.69 443.3 L689.39 447.68 L690.1 452.39 L690.8 457.89 L691.51 464.98 L692.21 474.09 L692.92 483.49 L693.62 493.5 L694.33 502.83 L695.03 510.63 L695.74 517.57 L696.26 522.1" stroke="#f03a3a" stroke-width="1.2" fill="none"/>
<g fill="#fff" stroke="#f02a2a" stroke-width="1.15"><circle cx="433.4" cy="309.25" r="3.1"/><circle cx="440.66" cy="308.16" r="3.1"/><circle cx="445.76" cy="310.02" r="3.1"/><circle cx="453.87" cy="308.31" r="3.1"/><circle cx="458.62" cy="310.17" r="3.1"/><circle cx="466.2" cy="308.45" r="3.1"/><circle cx="470.43" cy="310.3" r="3.1"/><circle cx="477.47" cy="308.58" r="3.1"/><circle cx="481.52" cy="310.43" r="3.1"/><circle cx="488.04" cy="308.7" r="3.1"/><circle cx="491.74" cy="310.54" r="3.1"/><circle cx="497.91" cy="308.8" r="3.1"/><circle cx="501.43" cy="310.63" r="3.1"/><circle cx="507.07" cy="308.89" r="3.1"/><circle cx="509.89" cy="310.72" r="3.1"/><circle cx="515.35" cy="308.98" r="3.1"/><circle cx="517.64" cy="310.81" r="3.1"/><circle cx="523.27" cy="309.15" r="3.1"/><circle cx="524.86" cy="310.83" r="3.1"/><circle cx="530.5" cy="309.42" r="3.1"/><circle cx="531.73" cy="310.76" r="3.1"/><circle cx="537.19" cy="309.68" r="3.1"/><circle cx="538.25" cy="310.73" r="3.1"/><circle cx="543.53" cy="309.96" r="3.1"/><circle cx="544.06" cy="310.71" r="3.1"/><circle cx="549.35" cy="310.23" r="3.1"/><circle cx="549.7" cy="310.72" r="3.1"/><circle cx="554.63" cy="310.48" r="3.1"/><circle cx="554.81" cy="310.73" r="3.1"/><circle cx="559.74" cy="310.74" r="3.1"/><circle cx="559.74" cy="310.75" r="3.1"/><circle cx="564.67" cy="310.88" r="3.1"/><circle cx="569.43" cy="311.02" r="3.1"/><circle cx="574.19" cy="311.16" r="3.1"/><circle cx="578.77" cy="311.3" r="3.1"/><circle cx="583.17" cy="311.42" r="3.1"/><circle cx="587.57" cy="311.55" r="3.1"/><circle cx="591.98" cy="311.67" r="3.1"/><circle cx="596.21" cy="311.79" r="3.1"/><circle cx="600.26" cy="311.91" r="3.1"/><circle cx="604.31" cy="312.04" r="3.1"/><circle cx="608.36" cy="312.19" r="3.1"/><circle cx="612.24" cy="312.35" r="3.1"/><circle cx="615.94" cy="312.52" r="3.1"/><circle cx="619.81" cy="312.73" r="3.1"/><circle cx="623.33" cy="312.95" r="3.1"/><circle cx="626.86" cy="313.19" r="3.1"/><circle cx="630.38" cy="313.46" r="3.1"/><circle cx="633.9" cy="313.77" r="3.1"/><circle cx="637.07" cy="314.08" r="3.1"/><circle cx="640.42" cy="314.49" r="3.1"/><circle cx="643.59" cy="314.98" r="3.1"/><circle cx="646.76" cy="315.58" r="3.1"/><circle cx="649.76" cy="316.4" r="3.1"/><circle cx="652.58" cy="317.32" r="3.1"/><circle cx="655.4" cy="318.29" r="3.1"/><circle cx="658.21" cy="319.78" r="3.1"/><circle cx="660.86" cy="322.26" r="3.1"/><circle cx="664.03" cy="326.17" r="3.1"/><circle cx="665.84" cy="328.2" r="3.1"/><circle cx="667.02" cy="330.87" r="3.1"/><circle cx="668.83" cy="333.55" r="3.1"/><circle cx="670.02" cy="336.94" r="3.1"/><circle cx="671.65" cy="340.01" r="3.1"/><circle cx="672.66" cy="343.99" r="3.1"/><circle cx="674.29" cy="347.83" r="3.1"/><circle cx="675.3" cy="352.85" r="3.1"/><circle cx="676.76" cy="357.07" r="3.1"/><circle cx="677.59" cy="362.23" r="3.1"/><circle cx="679.22" cy="367.28" r="3.1"/><circle cx="680.06" cy="372.99" r="3.1"/><circle cx="681.34" cy="378.63" r="3.1"/><circle cx="681.82" cy="386.62" r="3.1"/><circle cx="682.75" cy="392.13" r="3.1"/><circle cx="683.05" cy="399.74" r="3.1"/><circle cx="684.16" cy="407.07" r="3.1"/><circle cx="684.81" cy="416.28" r="3.1"/><circle cx="686.09" cy="422.86" r="3.1"/><circle cx="687.1" cy="432.69" r="3.1"/><circle cx="688.74" cy="441.1" r="3.1"/><circle cx="689.92" cy="451.16" r="3.1"/><circle cx="691.56" cy="461.1" r="3.1"/><circle cx="692.04" cy="471.72" r="3.1"/><circle cx="693.32" cy="483.49" r="3.1"/><circle cx="693.8" cy="495.97" r="3.1"/><circle cx="695.08" cy="506.83" r="3.1"/><circle cx="696.09" cy="520.66" r="3.1"/><circle cx="696.66" cy="522.1" r="3.1"/></g>
<rect x="432.4" y="302.2" width="273.7" height="219.9" fill="none" stroke="#2b2b2b" stroke-width="1.2"/>
<path d="M432.2 522.1v4.2M482 522.1v4.2M531.8 522.1v4.2M581.6 522.1v4.2M631.4 522.1v4.2M681.2 522.1v4.2" stroke="#2b2b2b" stroke-width="1.1" fill="none"/>
<path d="M457.1 522.1v2.6M506.9 522.1v2.6M556.7 522.1v2.6M606.5 522.1v2.6M656.3 522.1v2.6M706.1 522.1v2.6" stroke="#2b2b2b" stroke-width="1.1" fill="none"/>
<path d="M432.4 522.1h-4.3M432.4 479.53h-4.3M432.4 436.96h-4.3M432.4 394.39h-4.3M432.4 351.82h-4.3M432.4 309.25h-4.3" stroke="#2b2b2b" stroke-width="1.1" fill="none"/>
<path d="M432.4 500.81h-2.6M432.4 458.25h-2.6M432.4 415.68h-2.6M432.4 373.11h-2.6M432.4 330.54h-2.6" stroke="#2b2b2b" stroke-width="1.1" fill="none"/>
<text x="432.2" y="541" font-size="14.4" text-anchor="middle" fill="#1a1a1a" >0.0</text>
<text x="482" y="541" font-size="14.4" text-anchor="middle" fill="#1a1a1a" >0.4</text>
<text x="531.8" y="541" font-size="14.4" text-anchor="middle" fill="#1a1a1a" >0.8</text>
<text x="581.6" y="541" font-size="14.4" text-anchor="middle" fill="#1a1a1a" >1.2</text>
<text x="631.4" y="541" font-size="14.4" text-anchor="middle" fill="#1a1a1a" >1.6</text>
<text x="681.2" y="541" font-size="14.4" text-anchor="middle" fill="#1a1a1a" >2.0</text>
<text x="424.4" y="526.6" font-size="14.4" text-anchor="end" fill="#1a1a1a" >0</text>
<text x="424.4" y="484.03" font-size="14.4" text-anchor="end" fill="#1a1a1a" >3</text>
<text x="424.4" y="441.46" font-size="14.4" text-anchor="end" fill="#1a1a1a" >6</text>
<text x="424.4" y="398.89" font-size="14.4" text-anchor="end" fill="#1a1a1a" >9</text>
<text x="424.4" y="356.32" font-size="14.4" text-anchor="end" fill="#1a1a1a" >12</text>
<text x="424.4" y="313.75" font-size="14.4" text-anchor="end" fill="#1a1a1a" >15</text>
<text x="569.4" y="557" font-size="14.8" text-anchor="middle" fill="#1a1a1a" >Voltage (V)</text>
<text x="0" y="0" font-size="14.8" text-anchor="middle" fill="#1a1a1a" transform="translate(403.4,410.6) rotate(-90)">Current density (mA/cm<tspan font-size="9.5" dy="-4.2">2</tspan><tspan dy="4.2">)</tspan></text>
<path d="M490.3 402.9H515.8" stroke="#f03a3a" stroke-width="1.4"/>
<circle cx="503.2" cy="402.9" r="2.9" fill="#fff" stroke="#f03a3a" stroke-width="1.1"/>
<path d="M490.5 416.9h1.1M510.3 416.9h1.1" stroke="#f03a3a" stroke-width="1.4"/>
<circle cx="503.2" cy="416.9" r="2.9" fill="#fff" stroke="#f03a3a" stroke-width="1.1"/>
<text x="519.4" y="406.7" font-size="12.2" text-anchor="start" fill="#ef4848" >RS</text>
<text x="519.4" y="420.8" font-size="12.2" text-anchor="start" fill="#ef4848" >FS</text>
<path fill="#1b70b3" d="M586.4 436.8 C 583.5 431, 581.6 424, 580.8 416 C 580.2 408, 581.5 400.5, 586.1 396.2 C 589.5 393.6, 593 392.6, 596.6 392.6 C 601.5 392.6, 606 394.5, 609.6 397.4 C 613 400, 616 403, 618.8 406.4 C 615.5 405.5, 613 405, 610.6 405 C 607 404.6, 603.6 404.5, 600.5 405.6 C 596 407.4, 592.6 411, 590.6 416 C 588.6 421.5, 588 428, 586.4 436.8 Z"/>
<g fill="none" stroke="#fff" stroke-linecap="round">
<path d="M583.2 426 C 582.6 418, 583.4 410, 587 404" stroke-width="0.6"/>
<path d="M585.8 431 C 585.4 422, 586.2 414, 589.6 408" stroke-width="0.6"/>
<path d="M596 399.2 C 602 397.6, 609 399.5, 617.4 405.4" stroke-width="0.7"/>
<path d="M597.5 402 C 603 400.6, 610 402, 617.8 405.9" stroke-width="0.6"/>
<path d="M593.5 396.6 C 600 394.8, 607 396.6, 614 401.6" stroke-width="0.5"/>
<path d="M581.8 418 C 581.6 410, 583 403, 586.5 398.5" stroke-width="0.5"/>
<path d="M599 404 C 605 402.8, 611 403.8, 618 406.2" stroke-width="0.5"/>
</g>
<text x="591.5" y="429.4" font-size="17" font-weight="bold" font-style="italic" fill="#1b70b3">S</text>
<text x="602" y="429.4" font-size="13.6" font-weight="bold" font-style="italic" fill="#1b70b3" stroke="#1b70b3" stroke-width="0.3" textLength="26.5" lengthAdjust="spacingAndGlyphs">IMIT</text>
<circle cx="779.9" cy="431.5" r="5.8" fill="url(#sph)"/>
<circle cx="791.2" cy="478.4" r="5.8" fill="url(#sph)"/>
<circle cx="787.5" cy="502.4" r="5.8" fill="url(#sph)"/>
<circle cx="802.2" cy="419.8" r="5.8" fill="url(#sph)"/>
<circle cx="863.5" cy="443.1" r="5.8" fill="url(#sph)"/>
<circle cx="916.6" cy="469.5" r="5.8" fill="url(#sph)"/>
<circle cx="918" cy="418.1" r="5.8" fill="url(#sph)"/>
<circle cx="919" cy="406.1" r="5.8" fill="url(#sph)"/>
<circle cx="932.4" cy="384.2" r="5.8" fill="url(#sph)"/>
<circle cx="946.8" cy="366.7" r="5.8" fill="url(#sph)"/>
<circle cx="978" cy="386.9" r="5.8" fill="url(#sph)"/>
<circle cx="985.2" cy="405.4" r="5.8" fill="url(#sph)"/>
<circle cx="985.2" cy="442.4" r="5.8" fill="url(#sph)"/>
<circle cx="993" cy="373.9" r="5.8" fill="url(#sph)"/>
<circle cx="993" cy="349.6" r="5.8" fill="url(#sph)"/>
<circle cx="1015.6" cy="347.3" r="7.5" fill="url(#sph2)"/>
<rect x="772" y="302.2" width="274.2" height="220" fill="none" stroke="#2b2b2b" stroke-width="1.2"/>
<path d="M772 522.2v4.5M848.13 522.2v4.5M924.26 522.2v4.5M1000.39 522.2v4.5" stroke="#2b2b2b" stroke-width="1.1" fill="none"/>
<path d="M810.07 522.2v2.6M886.19 522.2v2.6M962.33 522.2v2.6M1038.45 522.2v2.6" stroke="#2b2b2b" stroke-width="1.1" fill="none"/>
<path d="M772 507.3h-4.5M772 478h-4.5M772 448.7h-4.5M772 419.4h-4.5M772 390.1h-4.5M772 360.8h-4.5M772 331.5h-4.5M772 302.2h-4.5" stroke="#2b2b2b" stroke-width="1.1" fill="none"/>
<path d="M772 521.95h-2.6M772 492.65h-2.6M772 463.35h-2.6M772 434.05h-2.6M772 404.75h-2.6M772 375.45h-2.6M772 346.15h-2.6M772 316.85h-2.6" stroke="#2b2b2b" stroke-width="1.1" fill="none"/>
<text x="772" y="541.1" font-size="15.1" text-anchor="middle" fill="#1a1a1a" >2022</text>
<text x="848.13" y="541.1" font-size="15.1" text-anchor="middle" fill="#1a1a1a" >2023</text>
<text x="924.26" y="541.1" font-size="15.1" text-anchor="middle" fill="#1a1a1a" >2024</text>
<text x="1000.39" y="541.1" font-size="15.1" text-anchor="middle" fill="#1a1a1a" >2025</text>
<text x="764.3" y="512.1" font-size="14.4" text-anchor="end" fill="#1a1a1a" >21</text>
<text x="764.3" y="482.8" font-size="14.4" text-anchor="end" fill="#1a1a1a" >22</text>
<text x="764.3" y="453.5" font-size="14.4" text-anchor="end" fill="#1a1a1a" >23</text>
<text x="764.3" y="424.2" font-size="14.4" text-anchor="end" fill="#1a1a1a" >24</text>
<text x="764.3" y="394.9" font-size="14.4" text-anchor="end" fill="#1a1a1a" >25</text>
<text x="764.3" y="365.6" font-size="14.4" text-anchor="end" fill="#1a1a1a" >26</text>
<text x="764.3" y="336.3" font-size="14.4" text-anchor="end" fill="#1a1a1a" >27</text>
<text x="764.3" y="307" font-size="14.4" text-anchor="end" fill="#1a1a1a" >28</text>
<text x="909.2" y="560.8" font-size="15.3" text-anchor="middle" fill="#1a1a1a" >Year</text>
<text x="0" y="0" font-size="14.8" text-anchor="middle" fill="#1a1a1a" transform="translate(743.3,409.9) rotate(-90)">Efficiency (%)</text>
<text x="1015.3" y="320.4" font-size="12.4" text-anchor="middle" fill="#ea4446" font-weight="bold">This work</text>
<text x="1015.3" y="335" font-size="12.4" text-anchor="middle" fill="#ea4446" font-weight="bold">26.46%</text>
<path d="M84.4 599.1 L84.9 597.4 L85.4 595.8 L85.8 594.5 L86.3 593.8 L86.8 591.9 L87.3 594.7 L87.8 594.3 L88.3 591.1 L88.7 592.1 L89.2 592.9 L89.7 592.2 L90.2 591.6 L90.7 592.9 L91.2 593.4 L91.6 591.0 L92.1 589.9 L92.6 592.0 L93.1 588.6 L93.6 591.9 L94.0 590.3 L94.5 593.2 L95.0 594.8 L95.5 592.0 L96.0 592.7 L96.5 591.8 L96.9 595.6 L97.4 593.8 L97.9 590.9 L98.4 593.6 L98.9 592.4 L99.4 593.2 L99.8 593.9 L100.3 591.0 L100.8 592.7 L101.3 593.7 L101.8 591.9 L102.2 593.6 L102.7 591.1 L103.2 593.6 L103.7 594.3 L104.2 593.7 L104.7 590.4 L105.1 592.8 L105.6 591.2 L106.1 592.0 L106.6 593.4 L107.1 594.6 L107.6 594.1 L108.0 591.1 L108.5 593.0 L109.0 592.2 L109.5 594.6 L110.0 594.7 L110.4 591.7 L110.9 592.7 L111.4 593.8 L111.9 593.8 L112.4 594.6 L112.9 594.3 L113.3 594.9 L113.8 592.0 L114.3 593.4 L114.8 594.6 L115.3 592.4 L115.7 594.4 L116.2 595.0 L116.7 593.0 L117.2 592.0 L117.7 595.2 L118.2 592.4 L118.6 594.7 L119.1 595.0 L119.6 595.4 L120.1 594.4 L120.6 592.8 L121.1 594.8 L121.5 592.4 L122.0 594.8 L122.5 594.5 L123.0 594.7 L123.5 592.1 L123.9 592.3 L124.4 594.5 L124.9 594.2 L125.4 594.7 L125.9 592.9 L126.4 595.7 L126.8 595.7 L127.3 594.5 L127.8 595.1 L128.3 592.9 L128.8 593.4 L129.3 594.1 L129.7 593.7 L130.2 593.6 L130.7 593.3 L131.2 592.8 L131.7 595.7 L132.1 594.0 L132.6 595.8 L133.1 594.7 L133.6 593.5 L134.1 593.2 L134.6 593.7 L135.0 596.3 L135.5 595.2 L136.0 595.9 L136.5 592.9 L137.0 596.1 L137.5 595.7 L137.9 595.4 L138.4 596.5 L138.9 593.5 L139.4 594.4 L139.9 596.2 L140.3 595.0 L140.8 596.5 L141.3 594.6 L141.8 596.0 L142.3 596.8 L142.8 596.5 L143.2 594.9 L143.7 594.7 L144.2 595.8 L144.7 594.7 L145.2 595.8 L145.7 596.6 L146.1 596.0 L146.6 595.7 L147.1 593.9 L147.6 596.8 L148.1 596.9 L148.5 595.2 L149.0 593.8 L149.5 594.0 L150.0 594.8 L150.5 597.1 L151.0 594.4 L151.4 594.9 L151.9 596.9 L152.4 595.7 L152.9 597.3 L153.4 594.5 L153.9 594.9 L154.3 594.6 L154.8 594.7 L155.3 596.6 L155.8 594.7 L156.3 596.7 L156.7 597.1 L157.2 596.2 L157.7 595.8 L158.2 596.6 L158.7 595.5 L159.2 595.5 L159.6 596.8 L160.1 595.5 L160.6 596.4 L161.1 595.1 L161.6 596.7 L162.1 592.6 L162.5 596.3 L163.0 595.8 L163.5 595.4 L164.0 596.0 L164.5 597.0 L164.9 594.3 L165.4 597.6 L165.9 595.9 L166.4 596.0 L166.9 597.9 L167.4 597.4 L167.8 595.1 L168.3 595.2 L168.8 595.7 L169.3 594.8 L169.8 595.3 L170.2 597.0 L170.7 595.8 L171.2 596.9 L171.7 595.4 L172.2 596.8 L172.7 598.5 L173.1 595.0 L173.6 595.7 L174.1 595.5 L174.6 596.2 L175.1 595.4 L175.6 596.6 L176.0 596.2 L176.5 598.1 L177.0 596.3 L177.5 595.4 L178.0 595.8 L178.4 594.3 L178.9 596.6 L179.4 595.2 L179.9 598.0 L180.4 595.2 L180.9 597.1 L181.3 598.1 L181.8 596.2 L182.3 596.8 L182.8 596.9 L183.3 595.4 L183.8 598.0 L184.2 596.3 L184.7 597.1 L185.2 596.7 L185.7 596.8 L186.2 598.1 L186.6 596.8 L187.1 595.5 L187.6 598.0 L188.1 598.6 L188.6 598.4 L189.1 597.0 L189.5 595.2 L190.0 598.6 L190.5 595.1 L191.0 596.8 L191.5 598.3 L192.0 597.3 L192.4 598.0 L192.9 596.2 L193.4 596.9 L193.9 597.8 L194.4 597.9 L194.8 595.7 L195.3 596.1 L195.8 597.3 L196.3 597.4 L196.8 596.2 L197.3 595.4 L197.7 598.7 L198.2 598.4 L198.7 597.7 L199.2 597.2 L199.7 598.8 L200.2 598.8 L200.6 598.2 L201.1 597.7 L201.6 596.4 L202.1 596.9 L202.6 599.0 L203.0 598.9 L203.5 597.5 L204.0 596.0 L204.5 595.8 L205.0 597.8 L205.5 596.0 L205.9 595.8 L206.4 597.7 L206.9 596.5 L207.4 597.9 L207.9 598.7 L208.4 597.2 L208.8 599.0 L209.3 596.9 L209.8 596.4 L210.3 596.0 L210.8 597.7 L211.2 598.9 L211.7 596.1 L212.2 596.2 L212.7 595.9 L213.2 597.3 L213.7 595.4 L214.1 598.1 L214.6 598.8 L215.1 598.4 L215.6 596.9 L216.1 598.3 L216.6 597.0 L217.0 597.7 L217.5 597.9 L218.0 596.1 L218.5 599.0 L219.0 597.8 L219.4 599.1 L219.9 596.2 L220.4 597.9 L220.9 598.5 L221.4 599.1 L221.9 597.6 L222.3 598.3 L222.8 599.3 L223.3 599.6 L223.8 598.4 L224.3 596.8 L224.7 597.9 L225.2 596.6 L225.7 596.5 L226.2 597.1 L226.7 597.0 L227.2 598.2 L227.6 598.0 L228.1 598.5 L228.6 598.5 L229.1 599.8 L229.6 597.1 L230.1 599.1 L230.5 599.9 L231.0 598.3 L231.5 597.4 L232.0 598.5 L232.5 598.7 L232.9 597.7 L233.4 599.5 L233.9 600.1 L234.4 598.0 L234.9 598.2 L235.4 597.0 L235.8 598.7 L236.3 597.3 L236.8 600.1 L237.3 600.1 L237.8 598.1 L238.3 599.4 L238.7 600.0 L239.2 599.8 L239.7 598.9 L240.2 599.1 L240.7 596.8 L241.1 597.1 L241.6 599.0 L242.1 599.7 L242.6 598.3 L243.1 600.4 L243.6 599.0 L244.0 599.3 L244.5 599.1 L245.0 600.3 L245.5 598.5 L246.0 598.2 L246.5 597.8 L246.9 597.1 L247.4 599.3 L247.9 598.2 L248.4 599.0 L248.9 599.8 L249.3 597.4 L249.8 597.9 L250.3 597.2 L250.8 597.7 L251.3 597.4 L251.8 600.2 L252.2 600.7 L252.7 600.0 L253.2 599.3 L253.7 598.3 L254.2 599.2 L254.7 598.9 L255.1 598.1 L255.6 600.6 L256.1 598.4 L256.6 600.7 L257.1 600.0 L257.5 598.3 L258.0 598.4 L258.5 599.5 L259.0 599.9 L259.5 598.0 L260.0 600.0 L260.4 600.9 L260.9 600.1 L261.4 601.0 L261.9 598.1 L262.4 600.6 L262.9 597.5 L263.3 600.3 L263.8 600.0 L264.3 599.0 L264.8 600.0 L265.3 599.8 L265.7 600.8 L266.2 599.8 L266.7 601.1 L267.2 600.4 L267.7 597.9 L268.2 600.2 L268.6 600.3 L269.1 598.8 L269.6 598.1 L270.1 600.3 L270.6 600.0 L271.1 598.8 L271.5 598.5 L272.0 599.2 L272.5 600.8 L273.0 600.8 L273.5 598.7 L273.9 598.9 L274.4 598.2 L274.9 598.7 L275.4 600.0 L275.9 601.0 L276.4 598.3 L276.8 599.0 L277.3 599.5 L277.8 599.1 L278.3 600.2 L278.8 601.1 L279.2 599.6 L279.7 599.9 L280.2 599.1 L280.7 598.3 L281.2 598.6 L281.7 600.3 L282.1 600.4 L282.6 598.4 L283.1 600.4 L283.6 598.9 L284.1 601.5 L284.6 601.0 L285.0 600.0 L285.5 598.9 L286.0 598.7 L286.5 601.4 L287.0 599.7 L287.4 600.9 L287.9 601.4 L288.4 599.0 L288.9 600.0 L289.4 595.8 L289.9 601.4 L290.3 600.2 L290.8 600.9 L291.3 599.8 L291.8 599.9 L292.3 600.3 L292.8 601.0 L293.2 600.3 L293.7 600.8 L294.2 599.0 L294.7 600.5 L295.2 600.5 L295.6 601.3 L296.1 601.4 L296.6 598.8 L297.1 601.2 L297.6 599.2 L298.1 600.2 L298.5 598.8 L299.0 601.8 L299.5 599.0 L300.0 599.6 L300.5 600.4 L301.0 599.9 L301.4 599.9 L301.9 600.9 L302.4 600.2 L302.9 601.7 L303.4 602.5 L303.8 600.1 L304.3 600.9 L304.8 599.3 L305.3 603.9 L305.8 599.7 L306.3 599.1 L306.7 599.4 L307.2 599.2 L307.7 602.2 L308.2 602.2 L308.7 602.0 L309.2 601.5 L309.6 605.0 L310.1 602.3 L310.6 602.8 L311.1 599.5 L311.6 601.6 L312.0 600.7 L312.5 601.3 L313.0 600.3 L313.5 600.1 L314.0 601.6 L314.5 601.1 L314.9 602.7 L315.4 602.0 L315.9 602.3 L316.4 602.0 L316.9 602.0 L317.4 601.1 L317.8 602.0 L318.3 602.0 L318.8 600.2 L319.3 604.4 L319.8 603.2 L320.2 605.3 L320.7 600.2 L321.2 601.8 L321.7 600.7 L322.2 599.9 L322.7 602.6 L323.1 600.1 L323.6 602.5 L324.1 601.6 L324.6 601.0 L325.1 600.6 L325.6 602.6 L326.0 601.8 L326.5 603.3 L327.0 602.5 L327.5 600.1 L328.0 598.0 L328.4 601.5 L328.9 600.9 L329.4 600.5 L329.9 600.0 L330.4 600.3 L330.9 602.1 L331.3 603.1 L331.8 601.9 L332.3 601.7 L332.8 602.8 L333.3 601.4 L333.7 603.6 L334.2 601.6 L334.7 600.7 L335.2 602.7 L335.7 600.5 L336.2 602.1 L336.6 601.1 L337.1 603.4 L337.6 600.9 L338.1 602.5 L338.6 601.0 L339.1 602.9 L339.5 601.9 L340.0 601.2 L340.5 601.7 L341.0 602.0 L341.5 600.8 L341.9 603.9 L342.4 603.8 L342.9 602.3 L343.4 601.0 L343.9 601.9 L344.4 603.2 L344.8 603.9 L345.3 602.8 L345.8 602.7 L346.3 602.8 L346.8 602.3 L347.3 603.5 L347.7 601.4 L348.2 603.5 L348.7 604.1 L349.2 603.9 L349.7 601.4 L350.1 604.0 L350.6 603.7 L351.1 601.5 L351.6 603.5 L352.1 601.8 L352.6 604.6 L353.0 601.7 L353.5 604.0 L354.0 604.2 L354.5 602.3 L355.0 601.5 L355.5 601.6 L355.9 602.3 L356.4 601.8 L356.9 601.6 L357.4 603.1 L357.9 604.5 L358.3 602.1 L358.8 603.7 L359.3 604.0 L359.8 603.4 L360.3 605.0 L360.8 605.1 L361.2 604.3 L361.7 603.2 L362.2 602.7 L362.7 602.0 L363.2 602.5 L363.7 602.1 L364.1 603.2 L364.6 602.9 L365.1 603.4 L365.6 605.2 L366.1 605.3 L366.5 602.9 L367.0 604.8 L367.5 602.8 L368.0 604.0 L368.5 605.6 L369.0 603.7 L369.4 604.1 L369.9 605.4 L370.4 604.8 L370.9 604.7 L371.4 604.6 L371.9 603.4 L372.3 605.2 L372.8 604.3 L373.3 603.8 L373.8 600.2 L374.3 605.5 L374.7 605.7 L375.2 605.3 L375.7 605.3 L376.2 605.5 L376.7 605.8 L377.2 605.4 L377.6 605.4 L378.1 604.5 L378.6 604.0 L379.1 605.0 L379.6 606.9 L380.0 605.9 L380.5 605.4 L381.0 605.7 L381.5 604.7 L382.0 601.9 L382.5 603.9 L382.9 605.7 L383.4 606.3 L383.9 606.2 L384.4 605.0 L384.9 605.3 L385.4 604.2 L385.8 606.3 L386.3 605.7 L386.8 604.3 L387.3 604.7 L387.8 604.9 L388.2 603.6 L388.7 606.3 L389.2 605.3 L389.7 604.8 L390.2 604.9 L390.7 603.5 L391.1 603.5 L391.6 602.8 L392.1 604.3 L392.6 604.5 L393.1 607.7 L393.6 604.9 L394.0 605.9 L394.5 605.8 L395.0 606.5 L395.5 607.0 L396.0 604.2 L396.4 604.6 L396.9 604.6 L397.4 606.2 L397.9 605.7 L398.4 606.6 L398.9 605.2 L399.3 604.4 L399.8 604.6 L400.3 604.1 L400.8 606.4 L401.3 604.9 L401.8 606.9 L402.2 605.5 L402.7 607.0 L403.2 605.6 L403.7 605.6 L404.2 606.3 L404.6 606.3 L405.1 605.1 L405.6 605.9 L406.1 606.1 L406.6 607.2 L407.1 606.6 L407.5 602.4 L408.0 604.3 L408.5 606.4 L409.0 604.7 L409.5 604.7 L410.0 607.0 L410.4 606.8 L410.9 605.4 L411.4 606.7 L411.9 604.5 L412.4 606.5 L412.8 605.3 L413.3 605.4 L413.8 607.1 L414.3 604.9 L414.8 606.8 L415.3 607.5 L415.7 607.7 L416.2 606.4 L416.7 605.8 L417.2 607.0 L417.7 602.4 L418.2 607.1 L418.6 605.1 L419.1 607.9 L419.6 607.1 L420.1 608.1 L420.6 606.5 L421.0 606.9 L421.5 606.7 L422.0 605.2 L422.5 606.1 L423.0 606.1 L423.5 606.8 L423.9 605.4 L424.4 606.5 L424.9 603.3 L425.4 605.1 L425.9 606.1 L426.4 606.7 L426.8 606.1 L427.3 605.1 L427.8 605.6 L428.3 605.5 L428.8 607.5 L429.2 606.8 L429.7 605.3 L430.2 607.5 L430.7 605.5 L431.2 606.5 L431.7 607.6 L432.1 607.1 L432.6 608.1 L433.1 606.1 L433.6 605.9 L434.1 608.3 L434.5 607.4 L435.0 605.8 L435.5 607.7 L436.0 606.6 L436.5 605.7 L437.0 606.5 L437.4 609.5 L437.9 605.4 L438.4 605.9 L438.9 606.6 L439.4 607.4 L439.9 606.5 L440.3 607.2 L440.8 608.1 L441.3 608.1 L441.8 608.4 L442.3 608.0 L442.7 607.7 L443.2 606.4 L443.7 606.6 L444.2 606.6 L444.7 605.8 L445.2 608.3 L445.6 607.3 L446.1 608.3 L446.6 607.2 L447.1 608.4 L447.6 608.4 L448.1 608.3 L448.5 607.3 L449.0 606.1 L449.5 607.7 L450.0 606.1 L450.5 607.9 L450.9 607.7 L451.4 607.1 L451.9 608.8 L452.4 607.2 L452.9 606.7 L453.4 607.3 L453.8 608.6 L454.3 606.0 L454.8 606.8 L455.3 606.8 L455.8 608.6 L456.3 605.8 L456.7 607.8 L457.2 606.9 L457.7 607.0 L458.2 605.7 L458.7 606.8 L459.1 605.4 L459.6 608.0 L460.1 606.6 L460.6 606.9 L461.1 607.1 L461.6 606.7 L462.0 607.0 L462.5 607.7 L463.0 606.7 L463.5 608.6 L464.0 607.3 L464.5 607.4 L464.9 608.2 L465.4 604.8 L465.9 606.6 L466.4 608.5 L466.9 607.9 L467.3 608.7 L467.8 606.9 L468.3 608.7 L468.8 608.2 L469.3 607.4 L469.8 607.4 L470.2 608.9 L470.7 607.2 L471.2 608.2 L471.7 606.9 L472.2 608.2 L472.7 604.9 L473.1 607.8 L473.6 607.9 L474.1 607.4 L474.6 607.0 L475.1 607.0 L475.5 606.7 L476.0 608.1 L476.5 608.7 L477.0 608.2 L477.5 608.0 L478.0 607.0 L478.4 607.7 L478.9 608.0 L479.4 608.8 L479.9 607.1 L480.4 608.7 L480.9 607.3 L481.3 606.8 L481.8 607.0 L482.3 608.6 L482.8 607.9 L483.3 605.9 L483.7 608.8 L484.2 606.8 L484.7 607.7 L485.2 607.1 L485.7 607.8 L486.2 608.7 L486.6 607.3 L487.1 609.2 L487.6 606.2 L488.1 607.7 L488.6 607.9 L489.0 607.4 L489.5 607.4 L490.0 605.9 L490.5 609.1 L491.0 608.2 L491.5 607.8 L491.9 606.5 L492.4 606.7 L492.9 607.8 L493.4 607.1 L493.9 605.4 L494.4 607.9 L494.8 608.9 L495.3 607.1 L495.8 607.7 L496.3 608.2 L496.8 608.4 L497.2 607.5 L497.7 608.4 L498.2 607.9 L498.7 606.1 L499.2 607.7 L499.7 608.4 L500.1 607.5 L500.6 606.2 L501.1 606.4 L501.6 605.7 L502.1 606.3 L502.6 606.7 L503.0 607.0 L503.5 607.9 L504.0 608.8 L504.5 606.8 L505.0 607.2 L505.4 606.0 L505.9 609.5 L506.4 607.1 L506.9 608.1 L507.4 606.5 L507.9 606.6 L508.3 608.3 L508.8 607.9 L509.3 606.9 L509.8 607.0 L510.3 607.4 L510.8 608.2 L511.2 608.4 L511.7 608.1 L512.2 607.0 L512.7 607.2 L513.2 607.8 L513.6 607.3 L514.1 607.1 L514.6 608.0 L515.1 607.2 L515.6 608.1 L516.1 608.0 L516.5 608.4 L517.0 608.2 L517.5 607.7 L518.0 608.4 L518.5 607.7 L519.0 608.2 L519.4 607.4 L519.9 608.3 L520.4 608.2 L520.9 608.1 L521.4 607.6 L521.8 607.3 L522.3 607.4 L522.8 607.4 L523.3 607.9 L523.8 607.7 L524.3 608.0 L524.7 608.3 L525.2 607.2 L525.7 607.9 L526.2 607.6 L526.7 608.4 L527.2 608.0 L527.6 608.4 L528.1 608.0 L528.6 607.5 L529.1 608.0 L529.6 607.5 L530.0 608.4 L530.5 608.0 L531.0 607.9 L531.5 607.8 L532.0 608.2 L532.5 607.5 L532.9 607.3 L533.4 607.4 L533.9 608.5 L534.4 607.8 L534.9 608.1 L535.4 607.7 L535.8 608.5 L536.3 607.5 L536.8 608.0 L537.3 607.2 L537.8 608.6 L538.2 608.0 L538.7 607.9 L539.2 607.4 L539.7 606.3 L540.2 608.3 L540.7 608.1 L541.1 607.5 L541.6 608.0 L542.1 608.2 L542.6 607.2 L543.1 607.4 L543.5 608.1 L544.0 607.8 L544.5 607.2 L545.0 608.3 L545.5 607.3 L546.0 607.3 L546.4 607.6 L546.9 607.6 L547.4 607.6 L547.9 607.8 L548.4 607.8 L548.9 608.4 L549.3 607.8 L549.8 606.6 L550.3 607.9 L550.8 607.6 L551.3 608.0 L551.7 607.5 L552.2 607.6 L552.7 608.5 L553.2 607.5 L553.7 608.2 L554.2 608.6 L554.6 608.5 L555.1 608.2 L555.6 607.5 L556.1 608.2 L556.6 608.4 L557.1 607.5 L557.5 608.1 L558.0 607.4 L558.5 608.3 L559.0 607.7 L559.5 607.2 L559.9 607.4 L560.4 607.7 L560.9 607.7 L561.4 608.6 L561.9 607.6 L562.4 608.2 L562.8 607.6 L563.3 607.5 L563.8 608.5 L564.3 608.7 L564.8 607.6 L565.3 607.3 L565.7 607.4 L566.2 608.1 L566.7 607.9 L567.2 608.7 L567.7 608.7 L568.1 607.9 L568.6 608.0 L569.1 607.5 L569.6 608.4 L570.1 608.1 L570.6 608.1 L571.0 608.3 L571.5 608.2 L572.0 607.9 L572.5 607.7 L573.0 608.5 L573.5 607.8 L573.9 608.2 L574.4 608.2 L574.9 608.4 L575.4 608.1 L575.9 607.9 L576.3 608.2 L576.8 608.1 L577.3 607.9 L577.8 607.5 L578.3 608.0 L578.8 608.3 L579.2 607.4 L579.7 608.6 L580.2 608.8 L580.7 607.5 L581.2 608.4 L581.7 608.6 L582.1 608.3 L582.6 608.3 L583.1 608.3 L583.6 607.6 L584.1 608.4 L584.5 608.7 L585.0 608.6 L585.5 607.5 L586.0 608.1 L586.5 608.3 L587.0 607.7 L587.4 607.5 L587.9 607.2 L588.4 607.7 L588.9 608.5 L589.4 608.4 L589.9 608.1 L590.3 608.6 L590.8 608.4 L591.3 608.5 L591.8 608.4 L592.3 607.8 L592.7 607.9 L593.2 608.6 L593.7 608.4 L594.2 608.0 L594.7 607.8 L595.2 608.1 L595.6 608.0 L596.1 607.9 L596.6 608.4 L597.1 607.9 L597.6 608.3 L598.0 608.5 L598.5 608.8 L599.0 608.1 L599.5 608.1 L600.0 608.8 L600.5 608.2 L600.9 607.8 L601.4 608.8 L601.9 608.7 L602.4 608.8 L602.9 608.4 L603.4 608.4 L603.8 607.9 L604.3 608.8 L604.8 608.6 L605.3 607.8 L605.8 608.8 L606.2 608.6 L606.7 608.4 L607.2 608.9 L607.7 608.6 L608.2 608.2 L608.7 608.2 L609.1 608.2 L609.6 608.2 L610.1 608.2 L610.6 608.9 L611.1 608.2 L611.6 608.3 L612.0 608.7 L612.5 608.5 L613.0 608.7 L613.5 608.0 L614.0 608.6 L614.4 608.8 L614.9 608.1 L615.4 608.1 L615.9 608.0 L616.4 608.2 L616.9 608.5 L617.3 608.5 L617.8 608.4 L618.3 608.3 L618.8 607.9 L619.3 608.7 L619.8 608.2 L620.2 609.0 L620.7 608.8 L621.2 608.0 L621.7 608.7 L622.2 608.5 L622.6 608.0 L623.1 608.3 L623.6 608.5 L624.1 608.3 L624.6 608.0 L625.1 608.0 L625.5 608.9 L626.0 608.9 L626.5 608.8 L627.0 608.9 L627.5 608.2 L628.0 608.2 L628.4 608.9 L628.9 609.0 L629.4 608.8 L629.9 608.4 L630.4 608.3 L630.8 608.6 L631.3 608.4 L631.8 608.1 L632.3 608.2 L632.8 609.0 L633.3 608.4 L633.7 608.3 L634.2 608.2 L634.7 608.1 L635.2 609.0 L635.7 608.7 L636.2 608.8 L636.6 608.8 L637.1 608.3 L637.6 608.5 L638.1 608.5 L638.6 607.8 L639.0 609.1 L639.5 609.2 L640.0 608.8 L640.5 608.3 L641.0 608.5 L641.5 608.4 L641.9 608.6 L642.4 608.4 L642.9 608.0 L643.4 608.5 L643.9 608.3 L644.4 608.2 L644.8 608.5 L645.3 608.4 L645.8 609.2 L646.3 609.3 L646.8 608.3 L647.2 609.1 L647.7 609.0 L648.2 609.2 L648.7 608.6 L649.2 609.3 L649.7 608.5 L650.1 609.0 L650.6 608.5 L651.1 608.4 L651.6 608.6 L652.1 608.9 L652.5 608.7 L653.0 608.5 L653.5 608.6 L654.0 609.1 L654.5 610.0 L655.0 608.5 L655.4 608.7 L655.9 609.4 L656.4 608.8 L656.9 608.8 L657.4 609.1 L657.9 608.5 L658.3 609.2 L658.8 609.3 L659.3 609.2 L659.8 609.1 L660.3 608.5 L660.7 609.2 L661.2 609.4 L661.7 609.1 L662.2 609.4 L662.7 608.8 L663.2 608.6 L663.6 609.5 L664.1 609.0 L664.6 609.3 L665.1 609.3 L665.6 608.8 L666.1 608.5 L666.5 609.3 L667.0 609.0 L667.5 609.3 L668.0 609.6 L668.5 609.0 L668.9 609.5 L669.4 608.9 L669.9 608.8 L670.4 609.5 L670.9 609.0 L671.4 609.4 L671.8 608.8 L672.3 609.4 L672.8 608.9 L673.3 609.0 L673.8 609.1 L674.3 609.5 L674.7 608.8 L675.2 609.4 L675.7 608.9 L676.2 609.2 L676.7 609.3 L677.1 609.0 L677.6 609.4 L678.1 608.9 L678.6 609.3 L679.1 609.0 L679.6 609.0 L680.0 608.8 L680.5 609.4 L681.0 609.5 L681.5 608.8 L682.0 609.2 L682.5 609.4 L682.9 609.1 L683.4 609.6 L683.9 608.8 L684.4 609.1 L684.9 609.2 L685.3 609.6 L685.8 609.0 L686.3 608.9 L686.8 609.1 L687.3 609.0 L687.8 609.9 L688.2 609.2 L688.7 609.0 L689.2 609.5 L689.7 609.9 L690.2 609.4 L690.7 609.8 L691.1 610.0 L691.6 609.0 L692.1 609.2 L692.6 609.4 L693.1 609.3 L693.5 609.4 L694.0 609.6 L694.5 610.1 L695.0 609.8 L695.5 609.6 L696.0 609.5 L696.4 609.8 L696.9 610.0 L697.4 609.8 L697.9 609.4 L698.4 609.2 L698.9 610.0 L699.3 609.8 L699.8 609.7 L700.3 610.0 L700.8 609.7 L701.3 609.7 L701.7 610.3 L702.2 609.3 L702.7 609.7 L703.2 610.2 L703.7 609.3 L704.2 610.2 L704.6 609.6 L705.1 609.9 L705.6 610.1 L706.1 610.0 L706.6 609.9 L707.0 610.6 L707.5 610.2 L708.0 610.0 L708.5 610.0 L709.0 610.3 L709.5 610.3 L709.9 610.5 L710.4 609.6 L710.9 610.5 L711.4 609.9 L711.9 610.0 L712.4 609.5 L712.8 610.4 L713.3 609.6 L713.8 610.5 L714.3 610.5 L714.8 609.9 L715.2 610.5 L715.7 610.0 L716.2 609.9 L716.7 610.6 L717.2 609.8 L717.7 610.3 L718.1 609.7 L718.6 610.8 L719.1 610.7 L719.6 609.3 L720.1 610.5 L720.6 610.4 L721.0 609.8 L721.5 610.5 L722.0 610.8 L722.5 610.7 L723.0 610.3 L723.4 610.1 L723.9 610.1 L724.4 610.4 L724.9 610.7 L725.4 610.8 L725.9 610.7 L726.3 610.6 L726.8 610.0 L727.3 610.6 L727.8 610.9 L728.3 610.3 L728.8 610.6 L729.2 611.1 L729.7 609.8 L730.2 610.1 L730.7 610.8 L731.2 610.3 L731.6 610.7 L732.1 610.4 L732.6 610.5 L733.1 610.4 L733.6 610.7 L734.1 611.1 L734.5 610.4 L735.0 610.8 L735.5 610.8 L736.0 610.5 L736.5 610.6 L737.0 610.2 L737.4 610.9 L737.9 610.7 L738.4 611.3 L738.9 611.3 L739.4 611.1 L739.8 611.1 L740.3 610.9 L740.8 611.2 L741.3 610.4 L741.8 611.0 L742.3 611.1 L742.7 610.5 L743.2 610.7 L743.7 610.7 L744.2 610.6 L744.7 610.8 L745.2 611.3 L745.6 610.6 L746.1 611.6 L746.6 610.7 L747.1 611.2 L747.6 611.3 L748.0 611.2 L748.5 611.3 L749.0 610.8 L749.5 610.9 L750.0 610.9 L750.5 611.5 L750.9 611.3 L751.4 611.7 L751.9 611.0 L752.4 611.8 L752.9 611.4 L753.4 611.7 L753.8 611.0 L754.3 610.9 L754.8 611.6 L755.3 611.0 L755.8 611.8 L756.2 611.2 L756.7 611.7 L757.2 611.5 L757.7 611.4 L758.2 611.7 L758.7 611.8 L759.1 611.4 L759.6 611.2 L760.1 611.0 L760.6 611.8 L761.1 611.9 L761.5 612.1 L762.0 612.0 L762.5 612.2 L763.0 611.9 L763.5 611.4 L764.0 612.1 L764.4 611.6 L764.9 612.0 L765.4 612.1 L765.9 611.8 L766.4 611.9 L766.9 612.0 L767.3 612.2 L767.8 612.0 L768.3 611.4 L768.8 612.4 L769.3 612.4 L769.7 611.8 L770.2 612.1 L770.7 612.2 L771.2 611.4 L771.7 612.2 L772.2 611.6 L772.6 611.9 L773.1 612.6 L773.6 612.3 L774.1 612.6 L774.6 612.1 L775.1 611.1 L775.5 612.7 L776.0 612.7 L776.5 613.6 L777.0 612.5 L777.5 612.6 L777.9 611.8 L778.4 612.0 L778.9 611.8 L779.4 612.3 L779.9 612.0 L780.4 612.2 L780.8 612.7 L781.3 612.3 L781.8 612.7 L782.3 612.5 L782.8 612.2 L783.3 612.9 L783.7 612.9 L784.2 612.2 L784.7 612.7 L785.2 613.0 L785.7 612.9 L786.1 612.9 L786.6 612.3 L787.1 612.8 L787.6 612.3 L788.1 612.8 L788.6 612.3 L789.0 612.4 L789.5 612.8 L790.0 612.6 L790.5 612.4 L791.0 613.4 L791.5 612.9 L791.9 613.5 L792.4 613.1 L792.9 612.9 L793.4 612.8 L793.9 612.7 L794.3 613.5 L794.8 612.8 L795.3 613.2 L795.8 613.1 L796.3 613.3 L796.8 612.9 L797.2 613.5 L797.7 613.9 L798.2 613.0 L798.7 613.2 L799.2 613.2 L799.7 613.8 L800.1 613.8 L800.6 613.3 L801.1 613.2 L801.6 613.4 L802.1 613.4 L802.5 613.4 L803.0 614.0 L803.5 613.7 L804.0 614.4 L804.5 613.4 L805.0 613.7 L805.4 613.5 L805.9 613.5 L806.4 613.3 L806.9 613.4 L807.4 614.3 L807.9 613.7 L808.3 614.0 L808.8 614.3 L809.3 613.9 L809.8 613.6 L810.3 613.6 L810.7 614.4 L811.2 614.3 L811.7 613.8 L812.2 613.5 L812.7 614.6 L813.2 614.6 L813.6 613.9 L814.1 614.0 L814.6 613.8 L815.1 614.5 L815.6 614.2 L816.0 613.9 L816.5 614.4 L817.0 614.4 L817.5 614.8 L818.0 614.0 L818.5 614.4 L818.9 614.5 L819.4 614.2 L819.9 614.0 L820.4 614.0 L820.9 614.6 L821.4 614.3 L821.8 614.6 L822.3 614.1 L822.8 614.2 L823.3 614.3 L823.8 614.2 L824.2 614.5 L824.7 614.5 L825.2 615.0 L825.7 614.4 L826.2 614.8 L826.7 614.6 L827.1 615.2 L827.6 614.8 L828.1 614.5 L828.6 614.5 L829.1 614.6 L829.6 615.0 L830.0 614.5 L830.5 614.6 L831.0 614.6 L831.5 614.9 L832.0 615.2 L832.4 614.7 L832.9 615.3 L833.4 614.3 L833.9 615.0 L834.4 615.1 L834.9 614.9 L835.3 615.3 L835.8 614.4 L836.3 614.3 L836.8 614.5 L837.3 614.8 L837.8 614.4 L838.2 615.1 L838.7 615.0 L839.2 615.3 L839.7 615.0 L840.2 614.5 L840.6 614.8 L841.1 614.9 L841.6 614.9 L842.1 614.8 L842.6 614.9 L843.1 615.1 L843.5 615.0 L844.0 615.5 L844.5 615.1 L845.0 614.9 L845.5 614.8 L846.0 615.3 L846.4 614.7 L846.9 615.5 L847.4 615.4 L847.9 614.8 L848.4 615.5 L848.8 615.4 L849.3 614.7 L849.8 615.2 L850.3 614.8 L850.8 614.9 L851.3 615.7 L851.7 615.5 L852.2 614.7 L852.7 615.4 L853.2 615.3 L853.7 614.7 L854.2 615.7 L854.6 614.7 L855.1 615.1 L855.6 615.1 L856.1 615.8 L856.6 615.1 L857.0 614.9 L857.5 615.4 L858.0 615.8 L858.5 615.7 L859.0 615.8 L859.5 615.4 L859.9 615.0 L860.4 615.8 L860.9 615.4 L861.4 615.5 L861.9 615.5 L862.3 616.0 L862.8 615.3 L863.3 615.7 L863.8 615.1 L864.3 615.4 L864.8 615.6 L865.2 614.9 L865.7 615.2 L866.2 615.5 L866.7 614.9 L867.2 615.3 L867.7 615.6 L868.1 615.7 L868.6 615.9 L869.1 615.7 L869.6 615.7 L870.1 615.7 L870.5 614.9 L871.0 615.2 L871.5 615.8 L872.0 615.7 L872.5 615.6 L873.0 616.0 L873.4 615.6 L873.9 615.5 L874.4 615.1 L874.9 615.6 L875.4 615.3 L875.9 615.4 L876.3 615.9 L876.8 615.4 L877.3 615.6 L877.8 616.0 L878.3 616.1 L878.7 615.1 L879.2 616.1 L879.7 615.2 L880.2 615.8 L880.7 616.1 L881.2 615.1 L881.6 615.5 L882.1 615.8 L882.6 615.3 L883.1 615.4 L883.6 615.8 L884.1 615.4 L884.5 615.4 L885.0 616.1 L885.5 615.5 L886.0 615.2 L886.5 615.5 L886.9 615.4 L887.4 615.2 L887.9 615.4 L888.4 615.8 L888.9 615.7 L889.4 615.5 L889.8 615.6 L890.3 616.3 L890.8 616.3 L891.3 616.0 L891.8 615.4 L892.3 616.1 L892.7 616.0 L893.2 615.5 L893.7 616.2 L894.2 616.1 L894.7 616.1 L895.1 616.4 L895.6 615.6 L896.1 616.1 L896.6 616.0 L897.1 616.1 L897.6 616.4 L898.0 615.5 L898.5 616.3 L899.0 616.1 L899.5 615.7 L900.0 616.1 L900.5 615.9 L900.9 616.1 L901.4 615.9 L901.9 616.2 L902.4 616.0 L902.9 616.5 L903.3 616.5 L903.8 616.0 L904.3 615.6 L904.8 615.5 L905.3 615.7 L905.8 616.0 L906.2 615.9 L906.7 615.9 L907.2 615.8 L907.7 615.5 L908.2 615.7 L908.7 616.1 L909.1 615.8 L909.6 616.4 L910.1 616.6 L910.6 615.7 L911.1 617.3 L911.5 615.7 L912.0 615.7 L912.5 616.5 L913.0 615.9 L913.5 616.4 L914.0 616.4 L914.4 615.7 L914.9 615.8 L915.4 615.9 L915.9 616.3 L916.4 615.7 L916.8 616.2 L917.3 615.7 L917.8 616.0 L918.3 616.8 L918.8 615.9 L919.3 615.9 L919.7 615.9 L920.2 616.2 L920.7 616.8 L921.2 615.9 L921.7 616.4 L922.2 616.7 L922.6 616.7 L923.1 616.7 L923.6 616.0 L924.1 616.9 L924.6 615.9 L925.0 616.9 L925.5 616.2 L926.0 616.7 L926.5 616.4 L927.0 616.8 L927.5 616.0 L927.9 616.9 L928.4 616.5 L928.9 616.4 L929.4 616.6 L929.9 616.8 L930.4 616.8 L930.8 616.0 L931.3 617.0 L931.8 617.1 L932.3 616.1 L932.8 616.1 L933.2 616.4 L933.7 616.6 L934.2 616.1 L934.7 616.7 L935.2 617.2 L935.7 616.7 L936.1 616.6 L936.6 616.6 L937.1 616.2 L937.6 617.2 L938.1 616.3 L938.6 616.7 L939.0 616.4 L939.5 616.8 L940.0 617.0 L940.5 616.9 L941.0 617.0 L941.4 616.8 L941.9 616.7 L942.4 616.4 L942.9 617.2 L943.4 616.9 L943.9 616.8 L944.3 617.0 L944.8 616.6 L945.3 616.7 L945.8 616.7 L946.3 616.9 L946.8 616.5 L947.2 616.5 L947.7 616.8 L948.2 617.3 L948.7 617.0 L949.2 617.2 L949.6 617.3 L950.1 617.2 L950.6 616.6 L951.1 617.1 L951.6 616.3 L952.1 617.1 L952.5 617.4 L953.0 616.9 L953.5 617.1 L954.0 616.6 L954.5 616.9 L955.0 616.5 L955.4 616.7 L955.9 617.1 L956.4 617.6 L956.9 617.4 L957.4 617.6 L957.8 616.9 L958.3 617.6 L958.8 617.0 L959.3 617.4 L959.8 617.2 L960.3 616.9 L960.7 617.4 L961.2 617.6 L961.7 616.7 L962.2 616.8 L962.7 617.2 L963.2 617.5 L963.6 617.7 L964.1 617.8 L964.6 617.5 L965.1 617.2 L965.6 617.4 L966.0 617.0 L966.5 616.8 L967.0 617.3 L967.5 617.6 L968.0 617.7 L968.5 617.9 L968.9 617.1 L969.4 617.0 L969.9 617.1 L970.4 617.9 L970.9 617.4 L971.3 617.1 L971.8 617.6 L972.3 617.1 L972.8 617.9 L973.3 617.5 L973.8 617.5 L974.2 616.9 L974.7 617.7 L975.2 617.9 L975.7 617.4 L976.2 618.0 L976.7 617.8 L977.1 617.7 L977.6 617.3 L978.1 617.7 L978.6 617.6 L979.1 617.5 L979.5 617.5 L980.0 617.2 L980.5 618.5 L981.0 617.7 L981.5 618.3 L982.0 618.1 L982.4 618.1 L982.9 617.3 L983.4 617.8 L983.9 618.2 L984.4 617.8 L984.9 617.5 L985.3 618.3 L985.8 618.2 L986.3 617.9 L986.8 618.4 L987.3 618.3 L987.7 617.9 L988.2 618.1 L988.7 617.5 L989.2 617.9 L989.7 617.7 L990.2 618.2 L990.6 618.2 L991.1 617.6 L991.6 617.9 L992.1 617.6 L992.6 618.4 L993.1 617.7 L993.5 617.9 L994.0 618.5 L994.5 618.6 L995.0 618.3 L995.5 618.0 L995.9 618.3 L996.4 617.9 L996.9 618.3 L997.4 618.5 L997.9 618.2 L998.4 618.1 L998.8 618.7 L999.3 618.2 L999.8 618.7 L1000.3 617.5 L1000.8 618.3 L1001.3 618.7 L1001.7 618.9 L1002.2 618.7 L1002.7 618.6 L1003.2 618.3 L1003.7 618.3 L1004.1 618.2 L1004.6 618.5 L1005.1 618.3 L1005.6 618.4 L1006.1 618.8 L1006.6 618.6 L1007.0 618.6 L1007.5 618.4 L1008.0 619.0 L1008.5 618.5 L1009.0 619.2 L1009.5 619.0 L1009.9 618.5 L1010.4 618.3 L1010.9 618.4 L1011.4 618.5 L1011.9 619.0 L1012.3 618.2 L1012.8 618.7 L1013.3 618.3 L1013.8 618.3 L1014.3 619.1 L1014.8 618.3 L1015.2 619.3 L1015.7 618.7 L1016.2 619.2 L1016.7 619.4 L1017.2 618.9 L1017.7 619.3 L1018.1 618.7 L1018.6 619.1 L1019.1 619.3 L1019.6 619.6 L1020.1 618.9 L1020.5 619.0 L1021.0 618.8 L1021.5 619.3 L1022.0 618.7 L1022.5 619.7 L1023.0 618.7 L1023.4 618.9 L1023.9 619.7 L1024.4 618.7 L1024.9 619.8 L1025.4 619.0 L1025.8 619.6 L1026.3 619.2 L1026.8 619.0 L1027.3 619.8 L1027.8 619.6 L1028.3 619.0 L1028.7 619.5 L1029.2 619.9 L1029.7 620.0 L1030.2 620.0 L1030.7 620.0 L1031.2 619.8 L1031.6 619.3 L1032.1 619.7 L1032.6 620.1 L1033.1 619.8 L1033.6 619.7 L1034.0 619.8 L1034.5 619.6 L1035.0 619.6 L1035.5 619.5 L1036.0 619.8 L1036.5 620.4 L1036.9 619.6 L1037.4 619.6 L1037.9 619.7 L1038.4 620.0 L1038.9 619.5 L1039.4 620.4 L1039.8 619.7 L1040.3 619.9 L1040.8 619.8 L1041.3 620.6 L1041.8 619.6 L1042.2 620.7 L1042.7 620.5 L1043.2 620.2 L1043.7 620.1 L1044.2 620.6 L1044.7 620.5 L1045.1 619.8 L1045.6 620.5 L1046.1 619.8 L1046.6 620.8 L1047.1 619.7 L1047.6 620.2 L1048.0 620.2 L1048.5 620.8 L1049.0 620.6" stroke="#ef3a3a" stroke-width="0.85" fill="none" stroke-linejoin="round"/>
<path d="M84.4 620.48H1049.0" stroke="#9a9a9a" stroke-width="0.9" stroke-dasharray="1.2 2"/>
<rect x="84.4" y="588.3" width="964.6" height="224.8" fill="none" stroke="#2b2b2b" stroke-width="1.2"/>
<path d="M84.4 813.1v4.2M204.98 813.1v4.2M325.55 813.1v4.2M446.12 813.1v4.2M566.7 813.1v4.2M687.27 813.1v4.2M807.85 813.1v4.2M928.43 813.1v4.2M1049 813.1v4.2" stroke="#2b2b2b" stroke-width="1.1" fill="none"/>
<path d="M144.69 813.1v2.5M265.26 813.1v2.5M385.84 813.1v2.5M506.41 813.1v2.5M626.99 813.1v2.5M747.56 813.1v2.5M868.14 813.1v2.5M988.71 813.1v2.5" stroke="#2b2b2b" stroke-width="1.1" fill="none"/>
<path d="M84.4 812.9h-4.2M84.4 770.14h-4.2M84.4 727.38h-4.2M84.4 684.62h-4.2M84.4 641.86h-4.2M84.4 599.1h-4.2" stroke="#2b2b2b" stroke-width="1.1" fill="none"/>
<path d="M84.4 791.52h-2.5M84.4 748.76h-2.5M84.4 706h-2.5M84.4 663.24h-2.5M84.4 620.48h-2.5" stroke="#2b2b2b" stroke-width="1.1" fill="none"/>
<text x="84.4" y="830.4" font-size="14.4" text-anchor="middle" fill="#1a1a1a" >0</text>
<text x="204.98" y="830.4" font-size="14.4" text-anchor="middle" fill="#1a1a1a" >50</text>
<text x="325.55" y="830.4" font-size="14.4" text-anchor="middle" fill="#1a1a1a" >100</text>
<text x="446.12" y="830.4" font-size="14.4" text-anchor="middle" fill="#1a1a1a" >150</text>
<text x="566.7" y="830.4" font-size="14.4" text-anchor="middle" fill="#1a1a1a" >200</text>
<text x="687.27" y="830.4" font-size="14.4" text-anchor="middle" fill="#1a1a1a" >250</text>
<text x="807.85" y="830.4" font-size="14.4" text-anchor="middle" fill="#1a1a1a" >300</text>
<text x="928.43" y="830.4" font-size="14.4" text-anchor="middle" fill="#1a1a1a" >350</text>
<text x="1049" y="830.4" font-size="14.4" text-anchor="middle" fill="#1a1a1a" >400</text>
<text x="77" y="816.7" font-size="14.4" text-anchor="end" fill="#1a1a1a" >0.0</text>
<text x="77" y="773.94" font-size="14.4" text-anchor="end" fill="#1a1a1a" >0.2</text>
<text x="77" y="731.18" font-size="14.4" text-anchor="end" fill="#1a1a1a" >0.4</text>
<text x="77" y="688.42" font-size="14.4" text-anchor="end" fill="#1a1a1a" >0.6</text>
<text x="77" y="645.66" font-size="14.4" text-anchor="end" fill="#1a1a1a" >0.8</text>
<text x="77" y="602.9" font-size="14.4" text-anchor="end" fill="#1a1a1a" >1.0</text>
<text x="566.8" y="848.8" font-size="14.8" text-anchor="middle" fill="#1a1a1a" >Time (h)</text>
<text x="0" y="0" font-size="14.8" text-anchor="middle" fill="#1a1a1a" transform="translate(48.9,702.7) rotate(-90)">Normalized PCE</text>
<text x="92.6" y="800" font-size="13.4" text-anchor="start" fill="#1a1a1a" >ISOS-L-1 (Encapsulated solar cell under 1 sun LED illumination)</text>
<text x="648.4" y="802" font-size="13.45" fill="#1a1a1a" xml:space="preserve">Environmental conditions  (Temperature ~30 <tspan font-size="9" dy="-5">o</tspan><tspan dy="5">C   RH ~70%)</tspan></text>
<text x="971.6" y="637.8" font-size="12.8" fill="#ef4848">T<tspan font-size="9" dy="3">90</tspan><tspan dy="-3"> = 400 h</tspan></text>
</svg>
</body></html>
